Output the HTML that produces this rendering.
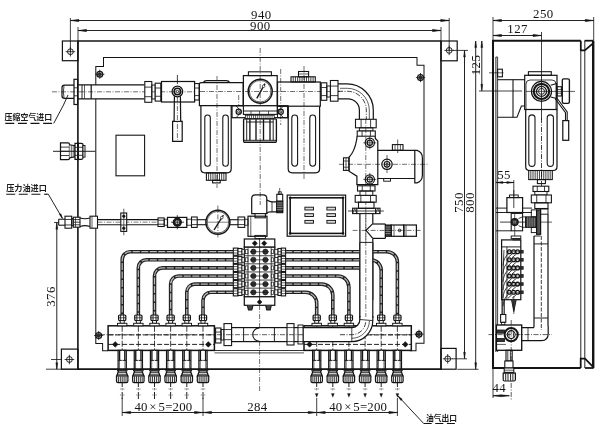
<!DOCTYPE html>
<html><head><meta charset="utf-8"><title>drawing</title>
<style>
html,body{margin:0;padding:0;background:#fff;}
body{width:600px;height:429px;overflow:hidden;}
svg{display:block;will-change:transform;}
.num{font-family:"Liberation Serif","DejaVu Serif",serif;fill:#141414;}
.cjk{font-family:"Liberation Sans","Noto Sans CJK SC","WenQuanYi Zen Hei",sans-serif;fill:#1c1c1c;}
</style></head><body>
<svg width="600" height="429" viewBox="0 0 600 429" stroke-linecap="butt" stroke-linejoin="miter">
<rect x="0" y="0" width="600" height="429" fill="#ffffff"/>
<line x1="77.90" y1="40.50" x2="77.90" y2="369.70" stroke="#141414" stroke-width="1.62"/>
<line x1="441.00" y1="40.50" x2="441.00" y2="369.70" stroke="#141414" stroke-width="1.62"/>
<line x1="77.90" y1="41.00" x2="441.00" y2="41.00" stroke="#141414" stroke-width="1.28"/>
<line x1="77.90" y1="369.20" x2="441.00" y2="369.20" stroke="#141414" stroke-width="1.35"/>
<rect x="62.40" y="41.00" width="15.60" height="19.70" fill="none" stroke="#141414" stroke-width="1.22"/>
<circle cx="70.40" cy="51.70" r="2.90" fill="none" stroke="#141414" stroke-width="0.94"/>
<line x1="65.60" y1="51.70" x2="75.20" y2="51.70" stroke="#141414" stroke-width="0.81"/>
<line x1="70.40" y1="46.90" x2="70.40" y2="56.50" stroke="#141414" stroke-width="0.81"/>
<rect x="441.00" y="41.00" width="16.20" height="19.80" fill="none" stroke="#141414" stroke-width="1.22"/>
<circle cx="449.20" cy="50.40" r="2.90" fill="none" stroke="#141414" stroke-width="0.94"/>
<line x1="444.40" y1="50.40" x2="454.00" y2="50.40" stroke="#141414" stroke-width="0.81"/>
<line x1="449.20" y1="45.60" x2="449.20" y2="55.20" stroke="#141414" stroke-width="0.81"/>
<rect x="61.40" y="349.10" width="16.60" height="20.10" fill="none" stroke="#141414" stroke-width="1.22"/>
<circle cx="69.40" cy="359.50" r="2.90" fill="none" stroke="#141414" stroke-width="0.94"/>
<line x1="64.60" y1="359.50" x2="74.20" y2="359.50" stroke="#141414" stroke-width="0.81"/>
<line x1="69.40" y1="354.70" x2="69.40" y2="364.30" stroke="#141414" stroke-width="0.81"/>
<rect x="441.00" y="348.40" width="15.10" height="20.80" fill="none" stroke="#141414" stroke-width="1.22"/>
<circle cx="447.70" cy="358.80" r="2.90" fill="none" stroke="#141414" stroke-width="0.94"/>
<line x1="442.90" y1="358.80" x2="452.50" y2="358.80" stroke="#141414" stroke-width="0.81"/>
<line x1="447.70" y1="354.00" x2="447.70" y2="363.60" stroke="#141414" stroke-width="0.81"/>
<line x1="70.40" y1="18.00" x2="70.40" y2="51.70" stroke="#141414" stroke-width="0.81"/>
<line x1="449.20" y1="18.00" x2="449.20" y2="50.40" stroke="#141414" stroke-width="0.81"/>
<line x1="78.00" y1="27.00" x2="78.00" y2="40.00" stroke="#141414" stroke-width="0.81"/>
<line x1="441.00" y1="27.00" x2="441.00" y2="40.00" stroke="#141414" stroke-width="0.81"/>
<line x1="70.40" y1="20.50" x2="449.20" y2="20.50" stroke="#141414" stroke-width="0.94"/>
<path d="M70.40,20.50 L78.90,19.35 L78.90,21.65 Z" fill="#141414" stroke="#141414" stroke-width="0.41"/>
<path d="M449.20,20.50 L440.70,21.65 L440.70,19.35 Z" fill="#141414" stroke="#141414" stroke-width="0.41"/>
<line x1="78.00" y1="30.50" x2="441.00" y2="30.50" stroke="#141414" stroke-width="0.94"/>
<path d="M78.00,30.50 L86.50,29.35 L86.50,31.65 Z" fill="#141414" stroke="#141414" stroke-width="0.41"/>
<path d="M441.00,30.50 L432.50,31.65 L432.50,29.35 Z" fill="#141414" stroke="#141414" stroke-width="0.41"/>
<text x="0" y="0" transform="translate(261.30 19.00) scale(1.07 1)" font-size="12" text-anchor="middle" class="num" font-weight="normal" letter-spacing="0.4">940</text>
<text x="0" y="0" transform="translate(260.30 30.20) scale(1.07 1)" font-size="12" text-anchor="middle" class="num" font-weight="normal" letter-spacing="0.4">900</text>
<path d="M95.80,85.00 L95.80,66.60 L103.50,66.60 L103.50,57.40 L417.00,57.40 L417.00,65.30 L424.00,65.30 L424.00,343.30 L416.00,343.30 L416.00,350.80 L409.60,350.80" fill="none" stroke="#141414" stroke-width="1.01"/>
<path d="M95.80,99.00 L95.80,343.60 L102.60,343.60 L102.60,350.80 L108.00,350.80" fill="none" stroke="#141414" stroke-width="1.01"/>
<line x1="214.40" y1="350.50" x2="304.00" y2="350.50" stroke="#141414" stroke-width="0.88"/>
<circle cx="99.80" cy="74.30" r="2.90" fill="none" stroke="#141414" stroke-width="1.28"/>
<line x1="95.20" y1="74.30" x2="104.40" y2="74.30" stroke="#141414" stroke-width="0.81"/>
<line x1="99.80" y1="69.70" x2="99.80" y2="78.90" stroke="#141414" stroke-width="0.81"/>
<rect x="98.50" y="73.00" width="2.60" height="2.60" fill="#333" stroke="#141414" stroke-width="0.54"/>
<circle cx="420.50" cy="77.60" r="2.90" fill="none" stroke="#141414" stroke-width="1.28"/>
<line x1="415.90" y1="77.60" x2="425.10" y2="77.60" stroke="#141414" stroke-width="0.81"/>
<line x1="420.50" y1="73.00" x2="420.50" y2="82.20" stroke="#141414" stroke-width="0.81"/>
<rect x="419.20" y="76.30" width="2.60" height="2.60" fill="#333" stroke="#141414" stroke-width="0.54"/>
<circle cx="98.70" cy="335.50" r="2.90" fill="none" stroke="#141414" stroke-width="1.28"/>
<line x1="94.10" y1="335.50" x2="103.30" y2="335.50" stroke="#141414" stroke-width="0.81"/>
<line x1="98.70" y1="330.90" x2="98.70" y2="340.10" stroke="#141414" stroke-width="0.81"/>
<rect x="97.40" y="334.20" width="2.60" height="2.60" fill="#333" stroke="#141414" stroke-width="0.54"/>
<circle cx="419.00" cy="334.20" r="2.90" fill="none" stroke="#141414" stroke-width="1.28"/>
<line x1="414.40" y1="334.20" x2="423.60" y2="334.20" stroke="#141414" stroke-width="0.81"/>
<line x1="419.00" y1="329.60" x2="419.00" y2="338.80" stroke="#141414" stroke-width="0.81"/>
<rect x="417.70" y="332.90" width="2.60" height="2.60" fill="#333" stroke="#141414" stroke-width="0.54"/>
<path d="M74,85.2 L64.5,85.2 Q62,85.2 62,87.8 L62,95.8 Q62,98.39999999999999 64.5,98.39999999999999 L74,98.39999999999999" fill="#fff" stroke="#141414" stroke-width="1.22"/>
<path d="M64,85.8 Q62.8,91.8 64,97.8" fill="none" stroke="#141414" stroke-width="0.81"/>
<rect x="74.00" y="79.30" width="3.60" height="25.20" fill="#fff" stroke="#141414" stroke-width="1.22"/>
<line x1="74.00" y1="87.80" x2="77.60" y2="87.80" stroke="#141414" stroke-width="0.81"/>
<line x1="74.00" y1="95.80" x2="77.60" y2="95.80" stroke="#141414" stroke-width="0.81"/>
<line x1="78.00" y1="84.90" x2="144.50" y2="84.90" stroke="#141414" stroke-width="1.22"/>
<line x1="78.00" y1="98.80" x2="144.50" y2="98.80" stroke="#141414" stroke-width="1.22"/>
<line x1="82.00" y1="84.90" x2="82.00" y2="98.80" stroke="#141414" stroke-width="0.94"/>
<line x1="91.20" y1="84.90" x2="91.20" y2="98.80" stroke="#141414" stroke-width="1.22"/>
<line x1="84.50" y1="84.90" x2="84.50" y2="98.80" stroke="#141414" stroke-width="0.68"/>
<line x1="52.00" y1="91.80" x2="200.00" y2="91.80" stroke="#141414" stroke-width="0.61" stroke-dasharray="5 1.5 1 1.5"/>
<rect x="144.80" y="81.50" width="7.00" height="20.80" fill="#fff" stroke="#141414" stroke-width="1.08"/>
<line x1="144.80" y1="87.12" x2="151.80" y2="87.12" stroke="#141414" stroke-width="0.81"/>
<line x1="144.80" y1="96.68" x2="151.80" y2="96.68" stroke="#141414" stroke-width="0.81"/>
<rect x="151.80" y="85.00" width="3.40" height="14.00" fill="none" stroke="#141414" stroke-width="0.94"/>
<rect x="155.20" y="83.20" width="5.60" height="17.90" fill="#fff" stroke="#141414" stroke-width="1.08"/>
<line x1="155.20" y1="88.03" x2="160.80" y2="88.03" stroke="#141414" stroke-width="0.81"/>
<line x1="155.20" y1="96.27" x2="160.80" y2="96.27" stroke="#141414" stroke-width="0.81"/>
<rect x="161.50" y="81.50" width="33.10" height="20.50" fill="none" stroke="#141414" stroke-width="1.22"/>
<circle cx="177.40" cy="91.50" r="5.30" fill="none" stroke="#141414" stroke-width="1.22"/>
<circle cx="177.40" cy="91.50" r="3.20" fill="none" stroke="#141414" stroke-width="1.62"/>
<circle cx="177.40" cy="91.50" r="1.20" fill="none" stroke="#141414" stroke-width="0.81"/>
<line x1="177.40" y1="75.00" x2="177.40" y2="84.00" stroke="#141414" stroke-width="0.81"/>
<path d="M174.40,96.30 L174.10,121.40 L172.60,121.40 L172.60,141.40 L182.20,141.40 L182.20,121.40 L180.70,121.40 L180.40,96.30" fill="none" stroke="#141414" stroke-width="1.22"/>
<line x1="172.60" y1="121.40" x2="182.20" y2="121.40" stroke="#141414" stroke-width="1.08"/>
<line x1="177.40" y1="97.00" x2="177.40" y2="140.00" stroke="#141414" stroke-width="0.61" stroke-dasharray="5 1.5 1 1.5"/>
<rect x="194.60" y="83.60" width="4.60" height="16.40" fill="#fff" stroke="#141414" stroke-width="1.08"/>
<line x1="194.60" y1="88.03" x2="199.20" y2="88.03" stroke="#141414" stroke-width="0.81"/>
<line x1="194.60" y1="95.57" x2="199.20" y2="95.57" stroke="#141414" stroke-width="0.81"/>
<path d="M199.4,84.5 Q199.4,82.7 201.2,82.7 L243.2,82.7 L243.2,105.6 L199.4,105.6 Z" fill="none" stroke="#141414" stroke-width="1.22"/>
<path d="M203.4,82.7 Q204,80.6 207,80.6 L226,80.6 Q229,80.6 229.6,82.7" fill="none" stroke="#141414" stroke-width="1.08"/>
<line x1="217.00" y1="76.00" x2="217.00" y2="188.00" stroke="#141414" stroke-width="0.61" stroke-dasharray="5 1.5 1 1.5"/>
<path d="M200.9,105.6 L200.9,168.8 Q200.9,172.8 204.9,172.8 L227.2,172.8 Q231.2,172.8 231.2,168.8 L231.2,105.6" fill="none" stroke="#141414" stroke-width="1.22"/>
<rect x="204.80" y="115.00" width="5.50" height="51.20" fill="none" stroke="#141414" stroke-width="1.08" rx="2.75"/>
<rect x="222.80" y="115.00" width="5.50" height="51.20" fill="none" stroke="#141414" stroke-width="1.08" rx="2.75"/>
<rect x="206.40" y="172.80" width="19.60" height="7.50" fill="none" stroke="#141414" stroke-width="1.08"/>
<line x1="208.58" y1="172.80" x2="208.58" y2="180.30" stroke="#141414" stroke-width="0.81"/>
<line x1="210.76" y1="172.80" x2="210.76" y2="180.30" stroke="#141414" stroke-width="0.81"/>
<line x1="212.94" y1="172.80" x2="212.94" y2="180.30" stroke="#141414" stroke-width="0.81"/>
<line x1="215.12" y1="172.80" x2="215.12" y2="180.30" stroke="#141414" stroke-width="0.81"/>
<line x1="217.30" y1="172.80" x2="217.30" y2="180.30" stroke="#141414" stroke-width="0.81"/>
<line x1="219.48" y1="172.80" x2="219.48" y2="180.30" stroke="#141414" stroke-width="0.81"/>
<line x1="221.66" y1="172.80" x2="221.66" y2="180.30" stroke="#141414" stroke-width="0.81"/>
<line x1="223.84" y1="172.80" x2="223.84" y2="180.30" stroke="#141414" stroke-width="0.81"/>
<rect x="212.60" y="180.30" width="7.60" height="2.60" fill="none" stroke="#141414" stroke-width="1.08"/>
<rect x="243.40" y="75.60" width="33.80" height="30.20" fill="none" stroke="#141414" stroke-width="1.22"/>
<rect x="248.40" y="71.80" width="23.00" height="3.80" fill="none" stroke="#141414" stroke-width="1.08"/>
<circle cx="260.20" cy="91.20" r="12.00" fill="none" stroke="#141414" stroke-width="1.49"/>
<circle cx="260.20" cy="91.20" r="10.80" fill="none" stroke="#141414" stroke-width="0.68"/>
<line x1="256.80" y1="98.40" x2="265.00" y2="83.60" stroke="#141414" stroke-width="1.35"/>
<circle cx="263.60" cy="86.20" r="1.30" fill="#fff" stroke="#141414" stroke-width="0.68"/>
<line x1="260.20" y1="48.00" x2="260.20" y2="205.00" stroke="#141414" stroke-width="0.61" stroke-dasharray="5 1.5 1 1.5"/>
<line x1="200.00" y1="91.50" x2="340.00" y2="91.50" stroke="#141414" stroke-width="0.61" stroke-dasharray="5 1.5 1 1.5"/>
<line x1="280.70" y1="69.00" x2="280.70" y2="125.00" stroke="#141414" stroke-width="0.61" stroke-dasharray="5 1.5 1 1.5"/>
<line x1="238.70" y1="95.00" x2="238.70" y2="106.00" stroke="#141414" stroke-width="0.61" stroke-dasharray="5 1.5 1 1.5"/>
<rect x="232.00" y="105.80" width="56.00" height="11.90" fill="none" stroke="#141414" stroke-width="1.22"/>
<circle cx="238.70" cy="111.80" r="2.60" fill="none" stroke="#141414" stroke-width="1.22"/>
<circle cx="238.70" cy="111.80" r="1.10" fill="none" stroke="#141414" stroke-width="0.81"/>
<circle cx="280.70" cy="111.80" r="2.60" fill="none" stroke="#141414" stroke-width="1.22"/>
<circle cx="280.70" cy="111.80" r="1.10" fill="none" stroke="#141414" stroke-width="0.81"/>
<path d="M236.00,105.80 L241.50,111.80 L236.00,117.70" fill="none" stroke="#141414" stroke-width="0.81"/>
<path d="M283.50,105.80 L278.00,111.80 L283.50,117.70" fill="none" stroke="#141414" stroke-width="0.81"/>
<rect x="243.40" y="105.80" width="33.80" height="8.60" fill="#fff" stroke="#141414" stroke-width="1.08"/>
<line x1="243.40" y1="111.00" x2="277.20" y2="111.00" stroke="#141414" stroke-width="0.94"/>
<line x1="251.00" y1="111.00" x2="251.00" y2="114.40" stroke="#141414" stroke-width="0.68"/>
<line x1="259.50" y1="111.00" x2="259.50" y2="114.40" stroke="#141414" stroke-width="0.68"/>
<line x1="268.50" y1="111.00" x2="268.50" y2="114.40" stroke="#141414" stroke-width="0.68"/>
<rect x="245.30" y="115.20" width="28.90" height="3.60" fill="#fff" stroke="#141414" stroke-width="0.81"/>
<line x1="247.36" y1="115.20" x2="247.36" y2="118.80" stroke="#141414" stroke-width="0.68"/>
<line x1="249.42" y1="115.20" x2="249.42" y2="118.80" stroke="#141414" stroke-width="0.68"/>
<line x1="251.48" y1="115.20" x2="251.48" y2="118.80" stroke="#141414" stroke-width="0.68"/>
<line x1="253.54" y1="115.20" x2="253.54" y2="118.80" stroke="#141414" stroke-width="0.68"/>
<line x1="255.60" y1="115.20" x2="255.60" y2="118.80" stroke="#141414" stroke-width="0.68"/>
<line x1="257.66" y1="115.20" x2="257.66" y2="118.80" stroke="#141414" stroke-width="0.68"/>
<line x1="259.72" y1="115.20" x2="259.72" y2="118.80" stroke="#141414" stroke-width="0.68"/>
<line x1="261.78" y1="115.20" x2="261.78" y2="118.80" stroke="#141414" stroke-width="0.68"/>
<line x1="263.84" y1="115.20" x2="263.84" y2="118.80" stroke="#141414" stroke-width="0.68"/>
<line x1="265.90" y1="115.20" x2="265.90" y2="118.80" stroke="#141414" stroke-width="0.68"/>
<line x1="267.96" y1="115.20" x2="267.96" y2="118.80" stroke="#141414" stroke-width="0.68"/>
<line x1="270.02" y1="115.20" x2="270.02" y2="118.80" stroke="#141414" stroke-width="0.68"/>
<line x1="272.08" y1="115.20" x2="272.08" y2="118.80" stroke="#141414" stroke-width="0.68"/>
<rect x="243.60" y="118.80" width="32.80" height="23.40" fill="none" stroke="#141414" stroke-width="1.35" rx="1"/>
<line x1="246.70" y1="122.00" x2="273.20" y2="122.00" stroke="#141414" stroke-width="0.94"/>
<line x1="243.60" y1="140.30" x2="276.40" y2="140.30" stroke="#141414" stroke-width="0.94"/>
<line x1="246.70" y1="119.20" x2="246.70" y2="140.30" stroke="#141414" stroke-width="0.94"/>
<line x1="249.90" y1="119.20" x2="249.90" y2="140.30" stroke="#141414" stroke-width="1.35"/>
<line x1="256.00" y1="119.20" x2="256.00" y2="140.30" stroke="#141414" stroke-width="1.35"/>
<line x1="263.50" y1="119.20" x2="263.50" y2="140.30" stroke="#141414" stroke-width="1.35"/>
<line x1="270.00" y1="119.20" x2="270.00" y2="140.30" stroke="#141414" stroke-width="1.35"/>
<line x1="273.20" y1="119.20" x2="273.20" y2="140.30" stroke="#141414" stroke-width="0.94"/>
<rect x="277.50" y="82.00" width="42.80" height="24.20" fill="none" stroke="#141414" stroke-width="1.22"/>
<rect x="291.00" y="76.80" width="24.30" height="5.20" fill="none" stroke="#141414" stroke-width="1.08"/>
<line x1="293.21" y1="76.80" x2="293.21" y2="82.00" stroke="#141414" stroke-width="0.81"/>
<line x1="295.42" y1="76.80" x2="295.42" y2="82.00" stroke="#141414" stroke-width="0.81"/>
<line x1="297.63" y1="76.80" x2="297.63" y2="82.00" stroke="#141414" stroke-width="0.81"/>
<line x1="299.84" y1="76.80" x2="299.84" y2="82.00" stroke="#141414" stroke-width="0.81"/>
<line x1="302.05" y1="76.80" x2="302.05" y2="82.00" stroke="#141414" stroke-width="0.81"/>
<line x1="304.26" y1="76.80" x2="304.26" y2="82.00" stroke="#141414" stroke-width="0.81"/>
<line x1="306.47" y1="76.80" x2="306.47" y2="82.00" stroke="#141414" stroke-width="0.81"/>
<line x1="308.68" y1="76.80" x2="308.68" y2="82.00" stroke="#141414" stroke-width="0.81"/>
<line x1="310.89" y1="76.80" x2="310.89" y2="82.00" stroke="#141414" stroke-width="0.81"/>
<line x1="313.10" y1="76.80" x2="313.10" y2="82.00" stroke="#141414" stroke-width="0.81"/>
<rect x="298.50" y="71.50" width="10.10" height="5.30" fill="none" stroke="#141414" stroke-width="1.08"/>
<line x1="298.50" y1="74.00" x2="308.60" y2="74.00" stroke="#141414" stroke-width="0.68"/>
<line x1="304.00" y1="66.00" x2="304.00" y2="180.00" stroke="#141414" stroke-width="0.61" stroke-dasharray="5 1.5 1 1.5"/>
<path d="M288.2,106.2 L288.2,168.8 Q288.2,172.8 292.2,172.8 L315.6,172.8 Q319.6,172.8 319.6,168.8 L319.6,106.2" fill="none" stroke="#141414" stroke-width="1.22"/>
<rect x="291.80" y="115.00" width="5.80" height="51.20" fill="none" stroke="#141414" stroke-width="1.08" rx="2.9"/>
<rect x="309.80" y="115.00" width="5.80" height="51.20" fill="none" stroke="#141414" stroke-width="1.08" rx="2.9"/>
<rect x="277.50" y="106.20" width="10.10" height="11.50" fill="none" stroke="#141414" stroke-width="0.94"/>
<rect x="321.20" y="82.80" width="5.60" height="17.50" fill="#fff" stroke="#141414" stroke-width="1.08"/>
<line x1="321.20" y1="87.52" x2="326.80" y2="87.52" stroke="#141414" stroke-width="0.81"/>
<line x1="321.20" y1="95.58" x2="326.80" y2="95.58" stroke="#141414" stroke-width="0.81"/>
<rect x="326.80" y="86.00" width="3.60" height="11.00" fill="none" stroke="#141414" stroke-width="0.94"/>
<rect x="330.40" y="80.50" width="7.60" height="20.70" fill="#fff" stroke="#141414" stroke-width="1.08"/>
<line x1="330.40" y1="86.09" x2="338.00" y2="86.09" stroke="#141414" stroke-width="0.81"/>
<line x1="330.40" y1="95.61" x2="338.00" y2="95.61" stroke="#141414" stroke-width="0.81"/>
<path d="M338,83.8 L347,83.8 A26.3,26.3 0 0 1 373.3,110 L373.3,119.3" fill="none" stroke="#141414" stroke-width="1.22"/>
<path d="M338,98.8 L348,98.8 A11.4,11.4 0 0 1 359.4,110.2 L359.4,119.3" fill="none" stroke="#141414" stroke-width="1.22"/>
<path d="M338,91.3 L347.5,91.3 A18.8,18.8 0 0 1 366.3,110 L366.3,119" fill="none" stroke="#141414" stroke-width="0.81" stroke-dasharray="5 1.5 1 1.5"/>
<path d="M340,88.3 L347.3,88.3 A22,22 0 0 1 369.3,110 L369.3,119.3" fill="none" stroke="#141414" stroke-width="0.68"/>
<rect x="355.50" y="119.30" width="20.70" height="8.50" fill="#fff" stroke="#141414" stroke-width="1.08"/>
<line x1="361.09" y1="119.30" x2="361.09" y2="127.80" stroke="#141414" stroke-width="0.81"/>
<line x1="370.61" y1="119.30" x2="370.61" y2="127.80" stroke="#141414" stroke-width="0.81"/>
<rect x="359.40" y="127.80" width="13.50" height="3.20" fill="none" stroke="#141414" stroke-width="0.94"/>
<rect x="357.20" y="131.00" width="18.10" height="5.20" fill="#fff" stroke="#141414" stroke-width="1.08"/>
<line x1="362.09" y1="131.00" x2="362.09" y2="136.20" stroke="#141414" stroke-width="0.81"/>
<line x1="370.41" y1="131.00" x2="370.41" y2="136.20" stroke="#141414" stroke-width="0.81"/>
<path d="M357.2,136.2 L356.6,140 Q354.5,152 349,157.2 L349,171.2 L356.9,176.2 L356.9,184.6 L377.8,184.6 L377.8,141 L375.3,138.5 L375.3,136.2" fill="none" stroke="#141414" stroke-width="1.22"/>
<rect x="343.50" y="157.80" width="5.50" height="12.60" fill="none" stroke="#141414" stroke-width="1.08"/>
<line x1="343.50" y1="161.00" x2="349.00" y2="161.00" stroke="#141414" stroke-width="0.68"/>
<line x1="343.50" y1="167.20" x2="349.00" y2="167.20" stroke="#141414" stroke-width="0.68"/>
<line x1="346.00" y1="157.80" x2="346.00" y2="170.40" stroke="#141414" stroke-width="0.68"/>
<circle cx="369.80" cy="142.80" r="4.60" fill="none" stroke="#141414" stroke-width="1.22"/>
<circle cx="369.80" cy="142.80" r="2.60" fill="none" stroke="#141414" stroke-width="1.22"/>
<line x1="363.30" y1="142.80" x2="376.30" y2="142.80" stroke="#141414" stroke-width="0.68"/>
<line x1="369.80" y1="136.30" x2="369.80" y2="149.30" stroke="#141414" stroke-width="0.68"/>
<circle cx="369.80" cy="179.40" r="4.60" fill="none" stroke="#141414" stroke-width="1.22"/>
<circle cx="369.80" cy="179.40" r="2.60" fill="none" stroke="#141414" stroke-width="1.22"/>
<line x1="363.30" y1="179.40" x2="376.30" y2="179.40" stroke="#141414" stroke-width="0.68"/>
<line x1="369.80" y1="172.90" x2="369.80" y2="185.90" stroke="#141414" stroke-width="0.68"/>
<circle cx="387.00" cy="164.30" r="5.20" fill="none" stroke="#141414" stroke-width="1.22"/>
<circle cx="387.00" cy="164.30" r="2.80" fill="none" stroke="#141414" stroke-width="1.22"/>
<circle cx="387.00" cy="164.30" r="1.10" fill="none" stroke="#141414" stroke-width="0.68"/>
<line x1="387.00" y1="155.00" x2="387.00" y2="173.00" stroke="#141414" stroke-width="0.68"/>
<path d="M377.8,150.3 L414.8,150.3 M377.8,178.5 L414.8,178.5" fill="none" stroke="#141414" stroke-width="1.22"/>
<path d="M414.8,150.3 L417,150.3 Q422.4,152 422.4,158 L422.4,175 Q422.4,181 417,182.8 L414.8,182.8 Z" fill="none" stroke="#141414" stroke-width="1.22"/>
<rect x="392.40" y="144.60" width="10.60" height="5.70" fill="none" stroke="#141414" stroke-width="1.08"/>
<line x1="395.00" y1="144.60" x2="395.00" y2="150.30" stroke="#141414" stroke-width="0.68"/>
<line x1="400.40" y1="144.60" x2="400.40" y2="150.30" stroke="#141414" stroke-width="0.68"/>
<line x1="397.70" y1="139.50" x2="397.70" y2="153.00" stroke="#141414" stroke-width="0.68"/>
<rect x="383.70" y="178.50" width="6.80" height="2.70" fill="none" stroke="#141414" stroke-width="0.94"/>
<line x1="339.00" y1="164.30" x2="428.00" y2="164.30" stroke="#141414" stroke-width="0.61" stroke-dasharray="5 1.5 1 1.5"/>
<line x1="365.80" y1="119.00" x2="365.80" y2="330.00" stroke="#141414" stroke-width="0.61" stroke-dasharray="5 1.5 1 1.5"/>
<rect x="357.50" y="185.80" width="17.50" height="5.20" fill="#fff" stroke="#141414" stroke-width="1.08"/>
<line x1="362.23" y1="185.80" x2="362.23" y2="191.00" stroke="#141414" stroke-width="0.81"/>
<line x1="370.27" y1="185.80" x2="370.27" y2="191.00" stroke="#141414" stroke-width="0.81"/>
<rect x="360.00" y="191.00" width="12.80" height="4.40" fill="none" stroke="#141414" stroke-width="0.94"/>
<rect x="355.20" y="195.40" width="21.00" height="6.80" fill="#fff" stroke="#141414" stroke-width="1.08"/>
<line x1="360.87" y1="195.40" x2="360.87" y2="202.20" stroke="#141414" stroke-width="0.81"/>
<line x1="370.53" y1="195.40" x2="370.53" y2="202.20" stroke="#141414" stroke-width="0.81"/>
<rect x="358.50" y="202.20" width="15.50" height="6.10" fill="none" stroke="#141414" stroke-width="1.08"/>
<line x1="348.00" y1="211.00" x2="383.80" y2="211.00" stroke="#141414" stroke-width="0.81"/>
<rect x="352.60" y="208.20" width="4.20" height="5.40" fill="none" stroke="#141414" stroke-width="1.08"/>
<rect x="375.60" y="208.20" width="4.40" height="5.40" fill="none" stroke="#141414" stroke-width="1.08"/>
<line x1="356.80" y1="208.30" x2="375.60" y2="208.30" stroke="#141414" stroke-width="1.08"/>
<line x1="356.80" y1="213.60" x2="375.60" y2="213.60" stroke="#141414" stroke-width="1.08"/>
<path d="M352.60,213.60 L354.70,208.20 L356.80,213.60" fill="none" stroke="#141414" stroke-width="0.68"/>
<path d="M375.60,213.60 L377.80,208.20 L380.00,213.60" fill="none" stroke="#141414" stroke-width="0.68"/>
<line x1="359.90" y1="213.60" x2="359.90" y2="320.00" stroke="#141414" stroke-width="1.22"/>
<line x1="372.80" y1="213.60" x2="372.80" y2="223.80" stroke="#141414" stroke-width="1.22"/>
<line x1="372.80" y1="238.40" x2="372.80" y2="300.00" stroke="#141414" stroke-width="1.22"/>
<line x1="359.90" y1="242.40" x2="372.80" y2="242.40" stroke="#141414" stroke-width="0.94"/>
<path d="M372.80,223.60 L366.00,230.30 L372.80,238.40" fill="none" stroke="#141414" stroke-width="1.22"/>
<line x1="372.80" y1="224.00" x2="385.40" y2="224.00" stroke="#141414" stroke-width="1.22"/>
<line x1="372.80" y1="238.40" x2="385.40" y2="238.40" stroke="#141414" stroke-width="1.22"/>
<line x1="385.40" y1="224.00" x2="385.40" y2="238.40" stroke="#141414" stroke-width="1.22"/>
<rect x="385.40" y="225.00" width="5.80" height="11.30" fill="#333" stroke="#141414" stroke-width="1.08"/>
<line x1="385.40" y1="227.00" x2="391.20" y2="227.00" stroke="#ccc" stroke-width="0.54"/>
<line x1="385.40" y1="229.20" x2="391.20" y2="229.20" stroke="#ccc" stroke-width="0.54"/>
<line x1="385.40" y1="231.40" x2="391.20" y2="231.40" stroke="#ccc" stroke-width="0.54"/>
<line x1="385.40" y1="233.60" x2="391.20" y2="233.60" stroke="#ccc" stroke-width="0.54"/>
<rect x="391.20" y="225.00" width="12.60" height="11.30" fill="none" stroke="#141414" stroke-width="1.22"/>
<circle cx="399.60" cy="230.40" r="1.30" fill="none" stroke="#141414" stroke-width="0.94"/>
<line x1="394.00" y1="225.00" x2="394.00" y2="236.30" stroke="#141414" stroke-width="0.68"/>
<rect x="403.80" y="225.00" width="12.60" height="11.30" fill="none" stroke="#141414" stroke-width="1.22"/>
<line x1="406.00" y1="225.00" x2="406.00" y2="236.30" stroke="#141414" stroke-width="0.68"/>
<line x1="352.60" y1="230.40" x2="421.50" y2="230.40" stroke="#141414" stroke-width="0.61" stroke-dasharray="5 1.5 1 1.5"/>
<rect x="287.20" y="195.10" width="58.40" height="41.10" fill="none" stroke="#141414" stroke-width="1.22"/>
<rect x="290.20" y="197.80" width="52.80" height="35.60" fill="none" stroke="#141414" stroke-width="1.55"/>
<circle cx="290.20" cy="197.80" r="1.10" fill="#141414" stroke="#141414" stroke-width="0.54"/>
<circle cx="343.00" cy="197.80" r="1.10" fill="#141414" stroke="#141414" stroke-width="0.54"/>
<circle cx="290.20" cy="233.40" r="1.10" fill="#141414" stroke="#141414" stroke-width="0.54"/>
<circle cx="343.00" cy="233.40" r="1.10" fill="#141414" stroke="#141414" stroke-width="0.54"/>
<rect x="304.90" y="207.20" width="8.60" height="2.80" fill="#ddd" stroke="#141414" stroke-width="0.94"/>
<rect x="304.90" y="213.70" width="8.60" height="2.80" fill="#ddd" stroke="#141414" stroke-width="0.94"/>
<rect x="304.90" y="220.40" width="8.60" height="2.80" fill="#ddd" stroke="#141414" stroke-width="0.94"/>
<rect x="326.90" y="207.20" width="8.60" height="2.80" fill="#ddd" stroke="#141414" stroke-width="0.94"/>
<rect x="326.90" y="213.70" width="8.60" height="2.80" fill="#ddd" stroke="#141414" stroke-width="0.94"/>
<rect x="326.90" y="220.40" width="8.60" height="2.80" fill="#ddd" stroke="#141414" stroke-width="0.94"/>
<path d="M251.7,213.6 L251.7,198.5 Q251.7,194.8 255.5,194.8 L263,194.8 Q266.8,194.8 266.8,198.5 L266.8,213.6 Z" fill="none" stroke="#141414" stroke-width="1.22"/>
<path d="M266.8,200 Q270,201.8 272,201.8 L276.8,201.8 L276.8,211.9 L270,211.9 Q268,211.9 266.8,213.3" fill="none" stroke="#141414" stroke-width="1.22"/>
<line x1="272.00" y1="201.80" x2="272.00" y2="211.90" stroke="#141414" stroke-width="0.81"/>
<rect x="276.80" y="194.30" width="5.90" height="18.40" fill="none" stroke="#141414" stroke-width="1.08"/>
<rect x="276.80" y="201.00" width="5.90" height="11.00" fill="#333" stroke="#141414" stroke-width="1.08"/>
<line x1="276.80" y1="203.00" x2="282.70" y2="203.00" stroke="#ccc" stroke-width="0.54"/>
<line x1="276.80" y1="205.20" x2="282.70" y2="205.20" stroke="#ccc" stroke-width="0.54"/>
<line x1="276.80" y1="207.40" x2="282.70" y2="207.40" stroke="#ccc" stroke-width="0.54"/>
<line x1="276.80" y1="209.60" x2="282.70" y2="209.60" stroke="#ccc" stroke-width="0.54"/>
<rect x="278.30" y="191.80" width="2.90" height="2.50" fill="none" stroke="#141414" stroke-width="0.81"/>
<line x1="279.70" y1="188.00" x2="279.70" y2="194.00" stroke="#141414" stroke-width="0.68"/>
<rect x="255.00" y="213.60" width="10.40" height="4.20" fill="#fff" stroke="#141414" stroke-width="1.08"/>
<rect x="248.00" y="216.20" width="19.00" height="20.10" fill="none" stroke="#141414" stroke-width="1.22"/>
<line x1="250.80" y1="216.20" x2="250.80" y2="236.30" stroke="#141414" stroke-width="0.68"/>
<rect x="255.00" y="235.40" width="10.40" height="3.20" fill="none" stroke="#141414" stroke-width="0.94"/>
<line x1="58.70" y1="219.20" x2="65.00" y2="219.20" stroke="#141414" stroke-width="1.08"/>
<line x1="58.70" y1="225.20" x2="65.00" y2="225.20" stroke="#141414" stroke-width="1.08"/>
<line x1="58.70" y1="219.20" x2="58.70" y2="225.20" stroke="#141414" stroke-width="1.08"/>
<rect x="65.00" y="216.20" width="6.70" height="12.00" fill="#fff" stroke="#141414" stroke-width="1.08"/>
<line x1="65.00" y1="219.44" x2="71.70" y2="219.44" stroke="#141414" stroke-width="0.81"/>
<line x1="65.00" y1="224.96" x2="71.70" y2="224.96" stroke="#141414" stroke-width="0.81"/>
<rect x="71.70" y="218.60" width="1.60" height="7.20" fill="none" stroke="#141414" stroke-width="0.94"/>
<rect x="73.30" y="217.20" width="6.70" height="10.00" fill="#fff" stroke="#141414" stroke-width="1.08"/>
<line x1="73.30" y1="219.60" x2="80.00" y2="219.60" stroke="#141414" stroke-width="0.81"/>
<line x1="73.30" y1="222.20" x2="80.00" y2="222.20" stroke="#141414" stroke-width="0.81"/>
<line x1="73.30" y1="224.80" x2="80.00" y2="224.80" stroke="#141414" stroke-width="0.81"/>
<line x1="75.50" y1="217.20" x2="75.50" y2="227.20" stroke="#141414" stroke-width="0.68"/>
<path d="M80,218.0 Q85,219.6 90,218.0 M80,226.39999999999998 Q85,224.79999999999998 90,226.39999999999998" fill="none" stroke="#141414" stroke-width="1.08"/>
<rect x="90.00" y="216.20" width="7.50" height="12.00" fill="#fff" stroke="#141414" stroke-width="1.08"/>
<line x1="92.00" y1="216.20" x2="92.00" y2="228.20" stroke="#141414" stroke-width="0.68"/>
<line x1="97.50" y1="219.60" x2="160.00" y2="219.60" stroke="#141414" stroke-width="1.08"/>
<line x1="97.50" y1="224.80" x2="160.00" y2="224.80" stroke="#141414" stroke-width="1.08"/>
<line x1="97.50" y1="222.20" x2="160.00" y2="222.20" stroke="#141414" stroke-width="0.54" stroke-dasharray="5 1.5 1 1.5"/>
<rect x="120.80" y="213.00" width="5.90" height="18.40" fill="#fff" stroke="#141414" stroke-width="1.08"/>
<line x1="120.80" y1="219.40" x2="126.70" y2="219.40" stroke="#141414" stroke-width="0.81"/>
<line x1="120.80" y1="225.00" x2="126.70" y2="225.00" stroke="#141414" stroke-width="0.81"/>
<line x1="123.80" y1="208.70" x2="123.80" y2="235.20" stroke="#141414" stroke-width="0.68"/>
<circle cx="123.80" cy="216.20" r="1.30" fill="#141414" stroke="#141414" stroke-width="0.68"/>
<circle cx="123.80" cy="228.20" r="1.30" fill="#141414" stroke="#141414" stroke-width="0.68"/>
<rect x="158.00" y="217.90" width="6.20" height="8.60" fill="#fff" stroke="#141414" stroke-width="1.08"/>
<line x1="158.00" y1="220.22" x2="164.20" y2="220.22" stroke="#141414" stroke-width="0.81"/>
<line x1="158.00" y1="224.18" x2="164.20" y2="224.18" stroke="#141414" stroke-width="0.81"/>
<rect x="164.20" y="219.20" width="3.30" height="6.00" fill="none" stroke="#141414" stroke-width="0.81"/>
<rect x="167.50" y="217.40" width="19.30" height="10.00" fill="none" stroke="#141414" stroke-width="1.22"/>
<circle cx="177.30" cy="222.20" r="4.00" fill="#222" stroke="#141414" stroke-width="1.22"/>
<circle cx="177.30" cy="222.20" r="1.60" fill="#fff" stroke="#fff" stroke-width="0.68"/>
<line x1="177.30" y1="215.20" x2="177.30" y2="229.20" stroke="#141414" stroke-width="0.81"/>
<line x1="171.00" y1="222.20" x2="184.00" y2="222.20" stroke="#141414" stroke-width="0.81"/>
<rect x="186.80" y="219.20" width="4.70" height="6.00" fill="none" stroke="#141414" stroke-width="0.81"/>
<rect x="191.50" y="217.00" width="5.70" height="10.40" fill="#fff" stroke="#141414" stroke-width="1.08"/>
<line x1="191.50" y1="219.81" x2="197.20" y2="219.81" stroke="#141414" stroke-width="0.81"/>
<line x1="191.50" y1="224.59" x2="197.20" y2="224.59" stroke="#141414" stroke-width="0.81"/>
<line x1="197.20" y1="219.70" x2="206.00" y2="219.70" stroke="#141414" stroke-width="1.08"/>
<line x1="197.20" y1="224.70" x2="206.00" y2="224.70" stroke="#141414" stroke-width="1.08"/>
<circle cx="217.90" cy="222.20" r="12.00" fill="#fff" stroke="#141414" stroke-width="1.49"/>
<circle cx="217.90" cy="222.20" r="10.80" fill="none" stroke="#141414" stroke-width="0.68"/>
<line x1="214.00" y1="230.00" x2="223.40" y2="215.20" stroke="#141414" stroke-width="1.35"/>
<circle cx="221.80" cy="217.60" r="1.30" fill="#fff" stroke="#141414" stroke-width="0.68"/>
<line x1="217.90" y1="205.50" x2="217.90" y2="238.50" stroke="#141414" stroke-width="0.61" stroke-dasharray="5 1.5 1 1.5"/>
<line x1="206.00" y1="222.20" x2="230.00" y2="222.20" stroke="#141414" stroke-width="0.54"/>
<line x1="230.00" y1="219.70" x2="238.00" y2="219.70" stroke="#141414" stroke-width="1.08"/>
<line x1="230.00" y1="224.70" x2="238.00" y2="224.70" stroke="#141414" stroke-width="1.08"/>
<rect x="238.00" y="217.00" width="6.70" height="10.40" fill="#fff" stroke="#141414" stroke-width="1.08"/>
<line x1="238.00" y1="219.81" x2="244.70" y2="219.81" stroke="#141414" stroke-width="0.81"/>
<line x1="238.00" y1="224.59" x2="244.70" y2="224.59" stroke="#141414" stroke-width="0.81"/>
<rect x="244.70" y="219.20" width="3.30" height="6.00" fill="none" stroke="#141414" stroke-width="0.81"/>
<path d="M233.3,251.7 L130.2,251.7 A8,8 0 0 0 122.2,259.7 L122.2,315" fill="none" stroke="#222" stroke-width="3.60" stroke-linejoin="round"/>
<path d="M233.3,251.7 L130.2,251.7 A8,8 0 0 0 122.2,259.7 L122.2,315" fill="none" stroke="#b8b8b8" stroke-width="1.25" stroke-dasharray="7 1.5" stroke-linejoin="round"/>
<path d="M233.3,259.8 L146.35,259.8 A8,8 0 0 0 138.35,267.8 L138.35,315" fill="none" stroke="#222" stroke-width="3.60" stroke-linejoin="round"/>
<path d="M233.3,259.8 L146.35,259.8 A8,8 0 0 0 138.35,267.8 L138.35,315" fill="none" stroke="#b8b8b8" stroke-width="1.25" stroke-dasharray="7 1.5" stroke-linejoin="round"/>
<path d="M233.3,267.9 L162.5,267.9 A8,8 0 0 0 154.5,275.9 L154.5,315" fill="none" stroke="#222" stroke-width="3.60" stroke-linejoin="round"/>
<path d="M233.3,267.9 L162.5,267.9 A8,8 0 0 0 154.5,275.9 L154.5,315" fill="none" stroke="#b8b8b8" stroke-width="1.25" stroke-dasharray="7 1.5" stroke-linejoin="round"/>
<path d="M233.3,276.0 L178.65,276.0 A8,8 0 0 0 170.65,284.0 L170.65,315" fill="none" stroke="#222" stroke-width="3.60" stroke-linejoin="round"/>
<path d="M233.3,276.0 L178.65,276.0 A8,8 0 0 0 170.65,284.0 L170.65,315" fill="none" stroke="#b8b8b8" stroke-width="1.25" stroke-dasharray="7 1.5" stroke-linejoin="round"/>
<path d="M233.3,284.1 L194.8,284.1 A8,8 0 0 0 186.8,292.1 L186.8,315" fill="none" stroke="#222" stroke-width="3.60" stroke-linejoin="round"/>
<path d="M233.3,284.1 L194.8,284.1 A8,8 0 0 0 186.8,292.1 L186.8,315" fill="none" stroke="#b8b8b8" stroke-width="1.25" stroke-dasharray="7 1.5" stroke-linejoin="round"/>
<path d="M233.3,292.3 L211.0,292.3 A8,8 0 0 0 203.0,300.3 L203.0,315" fill="none" stroke="#222" stroke-width="3.60" stroke-linejoin="round"/>
<path d="M233.3,292.3 L211.0,292.3 A8,8 0 0 0 203.0,300.3 L203.0,315" fill="none" stroke="#b8b8b8" stroke-width="1.25" stroke-dasharray="7 1.5" stroke-linejoin="round"/>
<path d="M285.3,251.7 L386.9,251.7 A10.5,10.5 0 0 1 397.4,262.2 L397.4,315" fill="none" stroke="#222" stroke-width="3.60" stroke-linejoin="round"/>
<path d="M285.3,251.7 L386.9,251.7 A10.5,10.5 0 0 1 397.4,262.2 L397.4,315" fill="none" stroke="#b8b8b8" stroke-width="1.25" stroke-dasharray="7 1.5" stroke-linejoin="round"/>
<path d="M285.3,259.8 L370.7,259.8 A10.5,10.5 0 0 1 381.2,270.3 L381.2,315" fill="none" stroke="#222" stroke-width="3.60" stroke-linejoin="round"/>
<path d="M285.3,259.8 L370.7,259.8 A10.5,10.5 0 0 1 381.2,270.3 L381.2,315" fill="none" stroke="#b8b8b8" stroke-width="1.25" stroke-dasharray="7 1.5" stroke-linejoin="round"/>
<path d="M285.3,267.9 L359.9,267.9" fill="none" stroke="#222" stroke-width="3.60" stroke-linejoin="round"/>
<path d="M285.3,267.9 L359.9,267.9" fill="none" stroke="#b8b8b8" stroke-width="1.25" stroke-dasharray="7 1.5" stroke-linejoin="round"/>
<path d="M285.3,276.0 L337.9,276.0 A11,11 0 0 1 348.9,287.0 L348.9,315" fill="none" stroke="#222" stroke-width="3.60" stroke-linejoin="round"/>
<path d="M285.3,276.0 L337.9,276.0 A11,11 0 0 1 348.9,287.0 L348.9,315" fill="none" stroke="#b8b8b8" stroke-width="1.25" stroke-dasharray="7 1.5" stroke-linejoin="round"/>
<path d="M285.3,284.1 L321.8,284.1 A11,11 0 0 1 332.8,295.1 L332.8,315" fill="none" stroke="#222" stroke-width="3.60" stroke-linejoin="round"/>
<path d="M285.3,284.1 L321.8,284.1 A11,11 0 0 1 332.8,295.1 L332.8,315" fill="none" stroke="#b8b8b8" stroke-width="1.25" stroke-dasharray="7 1.5" stroke-linejoin="round"/>
<path d="M285.3,292.3 L305.7,292.3 A11,11 0 0 1 316.7,303.3 L316.7,315" fill="none" stroke="#222" stroke-width="3.60" stroke-linejoin="round"/>
<path d="M285.3,292.3 L305.7,292.3 A11,11 0 0 1 316.7,303.3 L316.7,315" fill="none" stroke="#b8b8b8" stroke-width="1.25" stroke-dasharray="7 1.5" stroke-linejoin="round"/>
<rect x="359.9" y="243" width="12.900000000000034" height="76" fill="#fff"/>
<line x1="359.90" y1="242.40" x2="359.90" y2="318.00" stroke="#141414" stroke-width="1.22"/>
<line x1="372.80" y1="242.40" x2="372.80" y2="318.00" stroke="#141414" stroke-width="1.22"/>
<line x1="365.80" y1="214.00" x2="365.80" y2="330.00" stroke="#141414" stroke-width="0.61" stroke-dasharray="5 1.5 1 1.5"/>
<rect x="244.30" y="239.00" width="30.50" height="8.20" fill="#fff" stroke="#141414" stroke-width="1.22"/>
<path d="M252.20,243.30 L254.80,240.70 L257.40,243.30 L254.80,245.90 Z" fill="#141414" stroke="#141414" stroke-width="0.54"/>
<path d="M261.60,243.30 L264.20,240.70 L266.80,243.30 L264.20,245.90 Z" fill="#141414" stroke="#141414" stroke-width="0.54"/>
<line x1="259.60" y1="239.00" x2="259.60" y2="247.20" stroke="#141414" stroke-width="0.81"/>
<rect x="244.30" y="247.20" width="30.50" height="49.60" fill="#fff" stroke="#141414" stroke-width="1.22"/>
<line x1="259.60" y1="247.20" x2="259.60" y2="296.80" stroke="#141414" stroke-width="0.81"/>
<line x1="248.00" y1="247.20" x2="248.00" y2="296.80" stroke="#141414" stroke-width="0.68"/>
<line x1="271.20" y1="247.20" x2="271.20" y2="296.80" stroke="#141414" stroke-width="0.68"/>
<rect x="233.30" y="248.10" width="4.70" height="7.20" fill="#fff" stroke="#141414" stroke-width="1.08"/>
<line x1="233.30" y1="250.40" x2="238.00" y2="250.40" stroke="#141414" stroke-width="0.68"/>
<line x1="233.30" y1="253.00" x2="238.00" y2="253.00" stroke="#141414" stroke-width="0.68"/>
<rect x="238.00" y="248.50" width="4.00" height="6.40" fill="#fff" stroke="#141414" stroke-width="1.08"/>
<line x1="238.00" y1="251.70" x2="242.00" y2="251.70" stroke="#141414" stroke-width="0.68"/>
<rect x="242.00" y="249.30" width="2.30" height="4.80" fill="#fff" stroke="#141414" stroke-width="0.81"/>
<rect x="274.80" y="249.30" width="3.20" height="4.80" fill="#fff" stroke="#141414" stroke-width="0.81"/>
<rect x="278.00" y="248.50" width="3.30" height="6.40" fill="#fff" stroke="#141414" stroke-width="1.08"/>
<line x1="278.00" y1="251.70" x2="281.30" y2="251.70" stroke="#141414" stroke-width="0.68"/>
<rect x="281.30" y="248.10" width="4.30" height="7.20" fill="#fff" stroke="#141414" stroke-width="1.08"/>
<line x1="281.30" y1="250.40" x2="285.60" y2="250.40" stroke="#141414" stroke-width="0.68"/>
<line x1="281.30" y1="253.00" x2="285.60" y2="253.00" stroke="#141414" stroke-width="0.68"/>
<circle cx="253.40" cy="251.70" r="2.60" fill="#333" stroke="#141414" stroke-width="0.68"/>
<circle cx="265.40" cy="251.70" r="2.60" fill="#333" stroke="#141414" stroke-width="0.68"/>
<rect x="245.50" y="249.70" width="2.50" height="4.00" fill="none" stroke="#141414" stroke-width="0.68"/>
<rect x="271.20" y="249.70" width="2.40" height="4.00" fill="none" stroke="#141414" stroke-width="0.68"/>
<line x1="244.30" y1="255.75" x2="274.80" y2="255.75" stroke="#141414" stroke-width="0.81"/>
<line x1="250.00" y1="251.70" x2="269.00" y2="251.70" stroke="#141414" stroke-width="0.68"/>
<rect x="233.30" y="256.20" width="4.70" height="7.20" fill="#fff" stroke="#141414" stroke-width="1.08"/>
<line x1="233.30" y1="258.50" x2="238.00" y2="258.50" stroke="#141414" stroke-width="0.68"/>
<line x1="233.30" y1="261.10" x2="238.00" y2="261.10" stroke="#141414" stroke-width="0.68"/>
<rect x="238.00" y="256.60" width="4.00" height="6.40" fill="#fff" stroke="#141414" stroke-width="1.08"/>
<line x1="238.00" y1="259.80" x2="242.00" y2="259.80" stroke="#141414" stroke-width="0.68"/>
<rect x="242.00" y="257.40" width="2.30" height="4.80" fill="#fff" stroke="#141414" stroke-width="0.81"/>
<rect x="274.80" y="257.40" width="3.20" height="4.80" fill="#fff" stroke="#141414" stroke-width="0.81"/>
<rect x="278.00" y="256.60" width="3.30" height="6.40" fill="#fff" stroke="#141414" stroke-width="1.08"/>
<line x1="278.00" y1="259.80" x2="281.30" y2="259.80" stroke="#141414" stroke-width="0.68"/>
<rect x="281.30" y="256.20" width="4.30" height="7.20" fill="#fff" stroke="#141414" stroke-width="1.08"/>
<line x1="281.30" y1="258.50" x2="285.60" y2="258.50" stroke="#141414" stroke-width="0.68"/>
<line x1="281.30" y1="261.10" x2="285.60" y2="261.10" stroke="#141414" stroke-width="0.68"/>
<circle cx="253.40" cy="259.80" r="2.60" fill="#333" stroke="#141414" stroke-width="0.68"/>
<circle cx="265.40" cy="259.80" r="2.60" fill="#333" stroke="#141414" stroke-width="0.68"/>
<rect x="245.50" y="257.80" width="2.50" height="4.00" fill="none" stroke="#141414" stroke-width="0.68"/>
<rect x="271.20" y="257.80" width="2.40" height="4.00" fill="none" stroke="#141414" stroke-width="0.68"/>
<line x1="244.30" y1="263.85" x2="274.80" y2="263.85" stroke="#141414" stroke-width="0.81"/>
<line x1="250.00" y1="259.80" x2="269.00" y2="259.80" stroke="#141414" stroke-width="0.68"/>
<rect x="233.30" y="264.30" width="4.70" height="7.20" fill="#fff" stroke="#141414" stroke-width="1.08"/>
<line x1="233.30" y1="266.60" x2="238.00" y2="266.60" stroke="#141414" stroke-width="0.68"/>
<line x1="233.30" y1="269.20" x2="238.00" y2="269.20" stroke="#141414" stroke-width="0.68"/>
<rect x="238.00" y="264.70" width="4.00" height="6.40" fill="#fff" stroke="#141414" stroke-width="1.08"/>
<line x1="238.00" y1="267.90" x2="242.00" y2="267.90" stroke="#141414" stroke-width="0.68"/>
<rect x="242.00" y="265.50" width="2.30" height="4.80" fill="#fff" stroke="#141414" stroke-width="0.81"/>
<rect x="274.80" y="265.50" width="3.20" height="4.80" fill="#fff" stroke="#141414" stroke-width="0.81"/>
<rect x="278.00" y="264.70" width="3.30" height="6.40" fill="#fff" stroke="#141414" stroke-width="1.08"/>
<line x1="278.00" y1="267.90" x2="281.30" y2="267.90" stroke="#141414" stroke-width="0.68"/>
<rect x="281.30" y="264.30" width="4.30" height="7.20" fill="#fff" stroke="#141414" stroke-width="1.08"/>
<line x1="281.30" y1="266.60" x2="285.60" y2="266.60" stroke="#141414" stroke-width="0.68"/>
<line x1="281.30" y1="269.20" x2="285.60" y2="269.20" stroke="#141414" stroke-width="0.68"/>
<circle cx="253.40" cy="267.90" r="2.60" fill="#333" stroke="#141414" stroke-width="0.68"/>
<circle cx="265.40" cy="267.90" r="2.60" fill="#333" stroke="#141414" stroke-width="0.68"/>
<rect x="245.50" y="265.90" width="2.50" height="4.00" fill="none" stroke="#141414" stroke-width="0.68"/>
<rect x="271.20" y="265.90" width="2.40" height="4.00" fill="none" stroke="#141414" stroke-width="0.68"/>
<line x1="244.30" y1="271.95" x2="274.80" y2="271.95" stroke="#141414" stroke-width="0.81"/>
<line x1="250.00" y1="267.90" x2="269.00" y2="267.90" stroke="#141414" stroke-width="0.68"/>
<rect x="233.30" y="272.40" width="4.70" height="7.20" fill="#fff" stroke="#141414" stroke-width="1.08"/>
<line x1="233.30" y1="274.70" x2="238.00" y2="274.70" stroke="#141414" stroke-width="0.68"/>
<line x1="233.30" y1="277.30" x2="238.00" y2="277.30" stroke="#141414" stroke-width="0.68"/>
<rect x="238.00" y="272.80" width="4.00" height="6.40" fill="#fff" stroke="#141414" stroke-width="1.08"/>
<line x1="238.00" y1="276.00" x2="242.00" y2="276.00" stroke="#141414" stroke-width="0.68"/>
<rect x="242.00" y="273.60" width="2.30" height="4.80" fill="#fff" stroke="#141414" stroke-width="0.81"/>
<rect x="274.80" y="273.60" width="3.20" height="4.80" fill="#fff" stroke="#141414" stroke-width="0.81"/>
<rect x="278.00" y="272.80" width="3.30" height="6.40" fill="#fff" stroke="#141414" stroke-width="1.08"/>
<line x1="278.00" y1="276.00" x2="281.30" y2="276.00" stroke="#141414" stroke-width="0.68"/>
<rect x="281.30" y="272.40" width="4.30" height="7.20" fill="#fff" stroke="#141414" stroke-width="1.08"/>
<line x1="281.30" y1="274.70" x2="285.60" y2="274.70" stroke="#141414" stroke-width="0.68"/>
<line x1="281.30" y1="277.30" x2="285.60" y2="277.30" stroke="#141414" stroke-width="0.68"/>
<circle cx="253.40" cy="276.00" r="2.60" fill="#333" stroke="#141414" stroke-width="0.68"/>
<circle cx="265.40" cy="276.00" r="2.60" fill="#333" stroke="#141414" stroke-width="0.68"/>
<rect x="245.50" y="274.00" width="2.50" height="4.00" fill="none" stroke="#141414" stroke-width="0.68"/>
<rect x="271.20" y="274.00" width="2.40" height="4.00" fill="none" stroke="#141414" stroke-width="0.68"/>
<line x1="244.30" y1="280.05" x2="274.80" y2="280.05" stroke="#141414" stroke-width="0.81"/>
<line x1="250.00" y1="276.00" x2="269.00" y2="276.00" stroke="#141414" stroke-width="0.68"/>
<rect x="233.30" y="280.50" width="4.70" height="7.20" fill="#fff" stroke="#141414" stroke-width="1.08"/>
<line x1="233.30" y1="282.80" x2="238.00" y2="282.80" stroke="#141414" stroke-width="0.68"/>
<line x1="233.30" y1="285.40" x2="238.00" y2="285.40" stroke="#141414" stroke-width="0.68"/>
<rect x="238.00" y="280.90" width="4.00" height="6.40" fill="#fff" stroke="#141414" stroke-width="1.08"/>
<line x1="238.00" y1="284.10" x2="242.00" y2="284.10" stroke="#141414" stroke-width="0.68"/>
<rect x="242.00" y="281.70" width="2.30" height="4.80" fill="#fff" stroke="#141414" stroke-width="0.81"/>
<rect x="274.80" y="281.70" width="3.20" height="4.80" fill="#fff" stroke="#141414" stroke-width="0.81"/>
<rect x="278.00" y="280.90" width="3.30" height="6.40" fill="#fff" stroke="#141414" stroke-width="1.08"/>
<line x1="278.00" y1="284.10" x2="281.30" y2="284.10" stroke="#141414" stroke-width="0.68"/>
<rect x="281.30" y="280.50" width="4.30" height="7.20" fill="#fff" stroke="#141414" stroke-width="1.08"/>
<line x1="281.30" y1="282.80" x2="285.60" y2="282.80" stroke="#141414" stroke-width="0.68"/>
<line x1="281.30" y1="285.40" x2="285.60" y2="285.40" stroke="#141414" stroke-width="0.68"/>
<circle cx="253.40" cy="284.10" r="2.60" fill="#333" stroke="#141414" stroke-width="0.68"/>
<circle cx="265.40" cy="284.10" r="2.60" fill="#333" stroke="#141414" stroke-width="0.68"/>
<rect x="245.50" y="282.10" width="2.50" height="4.00" fill="none" stroke="#141414" stroke-width="0.68"/>
<rect x="271.20" y="282.10" width="2.40" height="4.00" fill="none" stroke="#141414" stroke-width="0.68"/>
<line x1="244.30" y1="288.15" x2="274.80" y2="288.15" stroke="#141414" stroke-width="0.81"/>
<line x1="250.00" y1="284.10" x2="269.00" y2="284.10" stroke="#141414" stroke-width="0.68"/>
<rect x="233.30" y="288.70" width="4.70" height="7.20" fill="#fff" stroke="#141414" stroke-width="1.08"/>
<line x1="233.30" y1="291.00" x2="238.00" y2="291.00" stroke="#141414" stroke-width="0.68"/>
<line x1="233.30" y1="293.60" x2="238.00" y2="293.60" stroke="#141414" stroke-width="0.68"/>
<rect x="238.00" y="289.10" width="4.00" height="6.40" fill="#fff" stroke="#141414" stroke-width="1.08"/>
<line x1="238.00" y1="292.30" x2="242.00" y2="292.30" stroke="#141414" stroke-width="0.68"/>
<rect x="242.00" y="289.90" width="2.30" height="4.80" fill="#fff" stroke="#141414" stroke-width="0.81"/>
<rect x="274.80" y="289.90" width="3.20" height="4.80" fill="#fff" stroke="#141414" stroke-width="0.81"/>
<rect x="278.00" y="289.10" width="3.30" height="6.40" fill="#fff" stroke="#141414" stroke-width="1.08"/>
<line x1="278.00" y1="292.30" x2="281.30" y2="292.30" stroke="#141414" stroke-width="0.68"/>
<rect x="281.30" y="288.70" width="4.30" height="7.20" fill="#fff" stroke="#141414" stroke-width="1.08"/>
<line x1="281.30" y1="291.00" x2="285.60" y2="291.00" stroke="#141414" stroke-width="0.68"/>
<line x1="281.30" y1="293.60" x2="285.60" y2="293.60" stroke="#141414" stroke-width="0.68"/>
<circle cx="253.40" cy="292.30" r="2.60" fill="#333" stroke="#141414" stroke-width="0.68"/>
<circle cx="265.40" cy="292.30" r="2.60" fill="#333" stroke="#141414" stroke-width="0.68"/>
<rect x="245.50" y="290.30" width="2.50" height="4.00" fill="none" stroke="#141414" stroke-width="0.68"/>
<rect x="271.20" y="290.30" width="2.40" height="4.00" fill="none" stroke="#141414" stroke-width="0.68"/>
<line x1="250.00" y1="292.30" x2="269.00" y2="292.30" stroke="#141414" stroke-width="0.68"/>
<rect x="244.30" y="296.80" width="30.50" height="8.50" fill="#fff" stroke="#141414" stroke-width="1.22"/>
<path d="M257.20,302.00 L259.60,299.60 L262.00,302.00 L259.60,304.40 Z" fill="#141414" stroke="#141414" stroke-width="0.54"/>
<line x1="259.60" y1="296.80" x2="259.60" y2="300.00" stroke="#141414" stroke-width="0.81"/>
<path d="M247.30,305.30 L248.50,310.00 L251.80,310.00 L253.00,305.30" fill="#444" stroke="#141414" stroke-width="1.08"/>
<path d="M265.60,305.30 L266.80,310.00 L270.20,310.00 L271.30,305.30" fill="#444" stroke="#141414" stroke-width="1.08"/>
<line x1="259.60" y1="305.00" x2="259.60" y2="392.00" stroke="#141414" stroke-width="0.61" stroke-dasharray="5 1.5 1 1.5"/>
<rect x="108.10" y="325.80" width="106.30" height="24.60" fill="#fff" stroke="#141414" stroke-width="1.49"/>
<line x1="108.10" y1="334.90" x2="214.40" y2="334.90" stroke="#141414" stroke-width="0.94" stroke-dasharray="5 2"/>
<line x1="108.10" y1="344.40" x2="214.40" y2="344.40" stroke="#141414" stroke-width="0.94" stroke-dasharray="5 2"/>
<line x1="122.20" y1="325.80" x2="122.20" y2="350.40" stroke="#141414" stroke-width="0.81" stroke-dasharray="6 1.5"/>
<line x1="138.35" y1="325.80" x2="138.35" y2="350.40" stroke="#141414" stroke-width="0.81" stroke-dasharray="6 1.5"/>
<line x1="154.50" y1="325.80" x2="154.50" y2="350.40" stroke="#141414" stroke-width="0.81" stroke-dasharray="6 1.5"/>
<line x1="170.65" y1="325.80" x2="170.65" y2="350.40" stroke="#141414" stroke-width="0.81" stroke-dasharray="6 1.5"/>
<line x1="186.80" y1="325.80" x2="186.80" y2="350.40" stroke="#141414" stroke-width="0.81" stroke-dasharray="6 1.5"/>
<line x1="203.00" y1="325.80" x2="203.00" y2="350.40" stroke="#141414" stroke-width="0.81" stroke-dasharray="6 1.5"/>
<path d="M112.40,344.40 L115.20,341.60 L118.00,344.40 L115.20,347.20 Z" fill="#141414" stroke="#141414" stroke-width="0.54"/>
<path d="M205.50,344.40 L208.30,341.60 L211.10,344.40 L208.30,347.20 Z" fill="#141414" stroke="#141414" stroke-width="0.54"/>
<rect x="118.60" y="315.00" width="7.20" height="5.60" fill="#fff" stroke="#141414" stroke-width="1.22" rx="1"/>
<line x1="120.70" y1="315.00" x2="120.70" y2="320.60" stroke="#141414" stroke-width="0.94"/>
<line x1="123.70" y1="315.00" x2="123.70" y2="320.60" stroke="#141414" stroke-width="0.94"/>
<line x1="118.60" y1="317.80" x2="125.80" y2="317.80" stroke="#141414" stroke-width="0.68"/>
<rect x="120.20" y="320.60" width="4.00" height="2.70" fill="#fff" stroke="#141414" stroke-width="0.94"/>
<rect x="117.50" y="323.30" width="9.40" height="2.50" fill="#fff" stroke="#141414" stroke-width="0.94"/>
<rect x="118.10" y="350.40" width="8.20" height="18.80" fill="#fff" stroke="#141414" stroke-width="1.22"/>
<line x1="118.10" y1="360.40" x2="126.30" y2="360.40" stroke="#141414" stroke-width="0.94"/>
<line x1="119.60" y1="350.40" x2="119.60" y2="360.40" stroke="#141414" stroke-width="1.35"/>
<line x1="124.80" y1="350.40" x2="124.80" y2="360.40" stroke="#141414" stroke-width="1.35"/>
<line x1="119.40" y1="360.40" x2="119.40" y2="369.20" stroke="#141414" stroke-width="0.68"/>
<line x1="125.00" y1="360.40" x2="125.00" y2="369.20" stroke="#141414" stroke-width="0.68"/>
<line x1="122.20" y1="350.40" x2="122.20" y2="369.00" stroke="#fff" stroke-width="0.68"/>
<rect x="117.40" y="369.20" width="9.60" height="1.60" fill="#fff" stroke="#141414" stroke-width="0.94"/>
<path d="M118.60,370.80 L116.70,376.00 L127.70,376.00 L125.80,370.80 Z" fill="#fff" stroke="#141414" stroke-width="1.22"/>
<line x1="117.90" y1="372.60" x2="126.50" y2="372.60" stroke="#141414" stroke-width="0.81"/>
<line x1="117.20" y1="374.30" x2="127.20" y2="374.30" stroke="#141414" stroke-width="0.81"/>
<path d="M116.5,376 L116.5,381 Q116.5,382.6 118.0,382.6 L126.4,382.6 Q127.9,382.6 127.9,381 L127.9,376 Z" fill="#fff" stroke="#141414" stroke-width="1.22"/>
<line x1="118.40" y1="376.30" x2="118.40" y2="382.30" stroke="#141414" stroke-width="0.88"/>
<line x1="120.30" y1="376.30" x2="120.30" y2="382.30" stroke="#141414" stroke-width="0.88"/>
<line x1="122.20" y1="376.30" x2="122.20" y2="382.30" stroke="#141414" stroke-width="0.88"/>
<line x1="124.10" y1="376.30" x2="124.10" y2="382.30" stroke="#141414" stroke-width="0.88"/>
<line x1="126.00" y1="376.30" x2="126.00" y2="382.30" stroke="#141414" stroke-width="0.88"/>
<line x1="122.20" y1="382.50" x2="122.20" y2="387.00" stroke="#141414" stroke-width="0.94"/>
<line x1="122.20" y1="388.00" x2="122.20" y2="390.30" stroke="#555" stroke-width="0.81"/>
<line x1="119.90" y1="389.00" x2="124.50" y2="389.00" stroke="#666" stroke-width="0.68" stroke-dasharray="1.5 1.6"/>
<line x1="122.20" y1="392.00" x2="122.20" y2="399.00" stroke="#141414" stroke-width="0.94"/>
<line x1="119.90" y1="395.00" x2="124.50" y2="395.00" stroke="#666" stroke-width="0.68" stroke-dasharray="1.5 1.6"/>
<rect x="134.75" y="315.00" width="7.20" height="5.60" fill="#fff" stroke="#141414" stroke-width="1.22" rx="1"/>
<line x1="136.85" y1="315.00" x2="136.85" y2="320.60" stroke="#141414" stroke-width="0.94"/>
<line x1="139.85" y1="315.00" x2="139.85" y2="320.60" stroke="#141414" stroke-width="0.94"/>
<line x1="134.75" y1="317.80" x2="141.95" y2="317.80" stroke="#141414" stroke-width="0.68"/>
<rect x="136.35" y="320.60" width="4.00" height="2.70" fill="#fff" stroke="#141414" stroke-width="0.94"/>
<rect x="133.65" y="323.30" width="9.40" height="2.50" fill="#fff" stroke="#141414" stroke-width="0.94"/>
<rect x="134.25" y="350.40" width="8.20" height="18.80" fill="#fff" stroke="#141414" stroke-width="1.22"/>
<line x1="134.25" y1="360.40" x2="142.45" y2="360.40" stroke="#141414" stroke-width="0.94"/>
<line x1="135.75" y1="350.40" x2="135.75" y2="360.40" stroke="#141414" stroke-width="1.35"/>
<line x1="140.95" y1="350.40" x2="140.95" y2="360.40" stroke="#141414" stroke-width="1.35"/>
<line x1="135.55" y1="360.40" x2="135.55" y2="369.20" stroke="#141414" stroke-width="0.68"/>
<line x1="141.15" y1="360.40" x2="141.15" y2="369.20" stroke="#141414" stroke-width="0.68"/>
<line x1="138.35" y1="350.40" x2="138.35" y2="369.00" stroke="#fff" stroke-width="0.68"/>
<rect x="133.55" y="369.20" width="9.60" height="1.60" fill="#fff" stroke="#141414" stroke-width="0.94"/>
<path d="M134.75,370.80 L132.85,376.00 L143.85,376.00 L141.95,370.80 Z" fill="#fff" stroke="#141414" stroke-width="1.22"/>
<line x1="134.05" y1="372.60" x2="142.65" y2="372.60" stroke="#141414" stroke-width="0.81"/>
<line x1="133.35" y1="374.30" x2="143.35" y2="374.30" stroke="#141414" stroke-width="0.81"/>
<path d="M132.65,376 L132.65,381 Q132.65,382.6 134.15,382.6 L142.54999999999998,382.6 Q144.04999999999998,382.6 144.04999999999998,381 L144.04999999999998,376 Z" fill="#fff" stroke="#141414" stroke-width="1.22"/>
<line x1="134.55" y1="376.30" x2="134.55" y2="382.30" stroke="#141414" stroke-width="0.88"/>
<line x1="136.45" y1="376.30" x2="136.45" y2="382.30" stroke="#141414" stroke-width="0.88"/>
<line x1="138.35" y1="376.30" x2="138.35" y2="382.30" stroke="#141414" stroke-width="0.88"/>
<line x1="140.25" y1="376.30" x2="140.25" y2="382.30" stroke="#141414" stroke-width="0.88"/>
<line x1="142.15" y1="376.30" x2="142.15" y2="382.30" stroke="#141414" stroke-width="0.88"/>
<line x1="138.35" y1="382.50" x2="138.35" y2="387.00" stroke="#141414" stroke-width="0.94"/>
<line x1="138.35" y1="388.00" x2="138.35" y2="390.30" stroke="#555" stroke-width="0.81"/>
<line x1="136.05" y1="389.00" x2="140.65" y2="389.00" stroke="#666" stroke-width="0.68" stroke-dasharray="1.5 1.6"/>
<line x1="138.35" y1="392.00" x2="138.35" y2="399.00" stroke="#141414" stroke-width="0.94"/>
<line x1="136.05" y1="395.00" x2="140.65" y2="395.00" stroke="#666" stroke-width="0.68" stroke-dasharray="1.5 1.6"/>
<rect x="150.90" y="315.00" width="7.20" height="5.60" fill="#fff" stroke="#141414" stroke-width="1.22" rx="1"/>
<line x1="153.00" y1="315.00" x2="153.00" y2="320.60" stroke="#141414" stroke-width="0.94"/>
<line x1="156.00" y1="315.00" x2="156.00" y2="320.60" stroke="#141414" stroke-width="0.94"/>
<line x1="150.90" y1="317.80" x2="158.10" y2="317.80" stroke="#141414" stroke-width="0.68"/>
<rect x="152.50" y="320.60" width="4.00" height="2.70" fill="#fff" stroke="#141414" stroke-width="0.94"/>
<rect x="149.80" y="323.30" width="9.40" height="2.50" fill="#fff" stroke="#141414" stroke-width="0.94"/>
<rect x="150.40" y="350.40" width="8.20" height="18.80" fill="#fff" stroke="#141414" stroke-width="1.22"/>
<line x1="150.40" y1="360.40" x2="158.60" y2="360.40" stroke="#141414" stroke-width="0.94"/>
<line x1="151.90" y1="350.40" x2="151.90" y2="360.40" stroke="#141414" stroke-width="1.35"/>
<line x1="157.10" y1="350.40" x2="157.10" y2="360.40" stroke="#141414" stroke-width="1.35"/>
<line x1="151.70" y1="360.40" x2="151.70" y2="369.20" stroke="#141414" stroke-width="0.68"/>
<line x1="157.30" y1="360.40" x2="157.30" y2="369.20" stroke="#141414" stroke-width="0.68"/>
<line x1="154.50" y1="350.40" x2="154.50" y2="369.00" stroke="#fff" stroke-width="0.68"/>
<rect x="149.70" y="369.20" width="9.60" height="1.60" fill="#fff" stroke="#141414" stroke-width="0.94"/>
<path d="M150.90,370.80 L149.00,376.00 L160.00,376.00 L158.10,370.80 Z" fill="#fff" stroke="#141414" stroke-width="1.22"/>
<line x1="150.20" y1="372.60" x2="158.80" y2="372.60" stroke="#141414" stroke-width="0.81"/>
<line x1="149.50" y1="374.30" x2="159.50" y2="374.30" stroke="#141414" stroke-width="0.81"/>
<path d="M148.8,376 L148.8,381 Q148.8,382.6 150.3,382.6 L158.7,382.6 Q160.2,382.6 160.2,381 L160.2,376 Z" fill="#fff" stroke="#141414" stroke-width="1.22"/>
<line x1="150.70" y1="376.30" x2="150.70" y2="382.30" stroke="#141414" stroke-width="0.88"/>
<line x1="152.60" y1="376.30" x2="152.60" y2="382.30" stroke="#141414" stroke-width="0.88"/>
<line x1="154.50" y1="376.30" x2="154.50" y2="382.30" stroke="#141414" stroke-width="0.88"/>
<line x1="156.40" y1="376.30" x2="156.40" y2="382.30" stroke="#141414" stroke-width="0.88"/>
<line x1="158.30" y1="376.30" x2="158.30" y2="382.30" stroke="#141414" stroke-width="0.88"/>
<line x1="154.50" y1="382.50" x2="154.50" y2="387.00" stroke="#141414" stroke-width="0.94"/>
<line x1="154.50" y1="388.00" x2="154.50" y2="390.30" stroke="#555" stroke-width="0.81"/>
<line x1="152.20" y1="389.00" x2="156.80" y2="389.00" stroke="#666" stroke-width="0.68" stroke-dasharray="1.5 1.6"/>
<line x1="154.50" y1="392.00" x2="154.50" y2="399.00" stroke="#141414" stroke-width="0.94"/>
<line x1="152.20" y1="395.00" x2="156.80" y2="395.00" stroke="#666" stroke-width="0.68" stroke-dasharray="1.5 1.6"/>
<rect x="167.05" y="315.00" width="7.20" height="5.60" fill="#fff" stroke="#141414" stroke-width="1.22" rx="1"/>
<line x1="169.15" y1="315.00" x2="169.15" y2="320.60" stroke="#141414" stroke-width="0.94"/>
<line x1="172.15" y1="315.00" x2="172.15" y2="320.60" stroke="#141414" stroke-width="0.94"/>
<line x1="167.05" y1="317.80" x2="174.25" y2="317.80" stroke="#141414" stroke-width="0.68"/>
<rect x="168.65" y="320.60" width="4.00" height="2.70" fill="#fff" stroke="#141414" stroke-width="0.94"/>
<rect x="165.95" y="323.30" width="9.40" height="2.50" fill="#fff" stroke="#141414" stroke-width="0.94"/>
<rect x="166.55" y="350.40" width="8.20" height="18.80" fill="#fff" stroke="#141414" stroke-width="1.22"/>
<line x1="166.55" y1="360.40" x2="174.75" y2="360.40" stroke="#141414" stroke-width="0.94"/>
<line x1="168.05" y1="350.40" x2="168.05" y2="360.40" stroke="#141414" stroke-width="1.35"/>
<line x1="173.25" y1="350.40" x2="173.25" y2="360.40" stroke="#141414" stroke-width="1.35"/>
<line x1="167.85" y1="360.40" x2="167.85" y2="369.20" stroke="#141414" stroke-width="0.68"/>
<line x1="173.45" y1="360.40" x2="173.45" y2="369.20" stroke="#141414" stroke-width="0.68"/>
<line x1="170.65" y1="350.40" x2="170.65" y2="369.00" stroke="#fff" stroke-width="0.68"/>
<rect x="165.85" y="369.20" width="9.60" height="1.60" fill="#fff" stroke="#141414" stroke-width="0.94"/>
<path d="M167.05,370.80 L165.15,376.00 L176.15,376.00 L174.25,370.80 Z" fill="#fff" stroke="#141414" stroke-width="1.22"/>
<line x1="166.35" y1="372.60" x2="174.95" y2="372.60" stroke="#141414" stroke-width="0.81"/>
<line x1="165.65" y1="374.30" x2="175.65" y2="374.30" stroke="#141414" stroke-width="0.81"/>
<path d="M164.95000000000002,376 L164.95000000000002,381 Q164.95000000000002,382.6 166.45000000000002,382.6 L174.85,382.6 Q176.35,382.6 176.35,381 L176.35,376 Z" fill="#fff" stroke="#141414" stroke-width="1.22"/>
<line x1="166.85" y1="376.30" x2="166.85" y2="382.30" stroke="#141414" stroke-width="0.88"/>
<line x1="168.75" y1="376.30" x2="168.75" y2="382.30" stroke="#141414" stroke-width="0.88"/>
<line x1="170.65" y1="376.30" x2="170.65" y2="382.30" stroke="#141414" stroke-width="0.88"/>
<line x1="172.55" y1="376.30" x2="172.55" y2="382.30" stroke="#141414" stroke-width="0.88"/>
<line x1="174.45" y1="376.30" x2="174.45" y2="382.30" stroke="#141414" stroke-width="0.88"/>
<line x1="170.65" y1="382.50" x2="170.65" y2="387.00" stroke="#141414" stroke-width="0.94"/>
<line x1="170.65" y1="388.00" x2="170.65" y2="390.30" stroke="#555" stroke-width="0.81"/>
<line x1="168.35" y1="389.00" x2="172.95" y2="389.00" stroke="#666" stroke-width="0.68" stroke-dasharray="1.5 1.6"/>
<line x1="170.65" y1="392.00" x2="170.65" y2="399.00" stroke="#141414" stroke-width="0.94"/>
<line x1="168.35" y1="395.00" x2="172.95" y2="395.00" stroke="#666" stroke-width="0.68" stroke-dasharray="1.5 1.6"/>
<rect x="183.20" y="315.00" width="7.20" height="5.60" fill="#fff" stroke="#141414" stroke-width="1.22" rx="1"/>
<line x1="185.30" y1="315.00" x2="185.30" y2="320.60" stroke="#141414" stroke-width="0.94"/>
<line x1="188.30" y1="315.00" x2="188.30" y2="320.60" stroke="#141414" stroke-width="0.94"/>
<line x1="183.20" y1="317.80" x2="190.40" y2="317.80" stroke="#141414" stroke-width="0.68"/>
<rect x="184.80" y="320.60" width="4.00" height="2.70" fill="#fff" stroke="#141414" stroke-width="0.94"/>
<rect x="182.10" y="323.30" width="9.40" height="2.50" fill="#fff" stroke="#141414" stroke-width="0.94"/>
<rect x="182.70" y="350.40" width="8.20" height="18.80" fill="#fff" stroke="#141414" stroke-width="1.22"/>
<line x1="182.70" y1="360.40" x2="190.90" y2="360.40" stroke="#141414" stroke-width="0.94"/>
<line x1="184.20" y1="350.40" x2="184.20" y2="360.40" stroke="#141414" stroke-width="1.35"/>
<line x1="189.40" y1="350.40" x2="189.40" y2="360.40" stroke="#141414" stroke-width="1.35"/>
<line x1="184.00" y1="360.40" x2="184.00" y2="369.20" stroke="#141414" stroke-width="0.68"/>
<line x1="189.60" y1="360.40" x2="189.60" y2="369.20" stroke="#141414" stroke-width="0.68"/>
<line x1="186.80" y1="350.40" x2="186.80" y2="369.00" stroke="#fff" stroke-width="0.68"/>
<rect x="182.00" y="369.20" width="9.60" height="1.60" fill="#fff" stroke="#141414" stroke-width="0.94"/>
<path d="M183.20,370.80 L181.30,376.00 L192.30,376.00 L190.40,370.80 Z" fill="#fff" stroke="#141414" stroke-width="1.22"/>
<line x1="182.50" y1="372.60" x2="191.10" y2="372.60" stroke="#141414" stroke-width="0.81"/>
<line x1="181.80" y1="374.30" x2="191.80" y2="374.30" stroke="#141414" stroke-width="0.81"/>
<path d="M181.10000000000002,376 L181.10000000000002,381 Q181.10000000000002,382.6 182.60000000000002,382.6 L191.0,382.6 Q192.5,382.6 192.5,381 L192.5,376 Z" fill="#fff" stroke="#141414" stroke-width="1.22"/>
<line x1="183.00" y1="376.30" x2="183.00" y2="382.30" stroke="#141414" stroke-width="0.88"/>
<line x1="184.90" y1="376.30" x2="184.90" y2="382.30" stroke="#141414" stroke-width="0.88"/>
<line x1="186.80" y1="376.30" x2="186.80" y2="382.30" stroke="#141414" stroke-width="0.88"/>
<line x1="188.70" y1="376.30" x2="188.70" y2="382.30" stroke="#141414" stroke-width="0.88"/>
<line x1="190.60" y1="376.30" x2="190.60" y2="382.30" stroke="#141414" stroke-width="0.88"/>
<line x1="186.80" y1="382.50" x2="186.80" y2="387.00" stroke="#141414" stroke-width="0.94"/>
<line x1="186.80" y1="388.00" x2="186.80" y2="390.30" stroke="#555" stroke-width="0.81"/>
<line x1="184.50" y1="389.00" x2="189.10" y2="389.00" stroke="#666" stroke-width="0.68" stroke-dasharray="1.5 1.6"/>
<line x1="186.80" y1="392.00" x2="186.80" y2="399.00" stroke="#141414" stroke-width="0.94"/>
<line x1="184.50" y1="395.00" x2="189.10" y2="395.00" stroke="#666" stroke-width="0.68" stroke-dasharray="1.5 1.6"/>
<rect x="199.40" y="315.00" width="7.20" height="5.60" fill="#fff" stroke="#141414" stroke-width="1.22" rx="1"/>
<line x1="201.50" y1="315.00" x2="201.50" y2="320.60" stroke="#141414" stroke-width="0.94"/>
<line x1="204.50" y1="315.00" x2="204.50" y2="320.60" stroke="#141414" stroke-width="0.94"/>
<line x1="199.40" y1="317.80" x2="206.60" y2="317.80" stroke="#141414" stroke-width="0.68"/>
<rect x="201.00" y="320.60" width="4.00" height="2.70" fill="#fff" stroke="#141414" stroke-width="0.94"/>
<rect x="198.30" y="323.30" width="9.40" height="2.50" fill="#fff" stroke="#141414" stroke-width="0.94"/>
<rect x="198.90" y="350.40" width="8.20" height="18.80" fill="#fff" stroke="#141414" stroke-width="1.22"/>
<line x1="198.90" y1="360.40" x2="207.10" y2="360.40" stroke="#141414" stroke-width="0.94"/>
<line x1="200.40" y1="350.40" x2="200.40" y2="360.40" stroke="#141414" stroke-width="1.35"/>
<line x1="205.60" y1="350.40" x2="205.60" y2="360.40" stroke="#141414" stroke-width="1.35"/>
<line x1="200.20" y1="360.40" x2="200.20" y2="369.20" stroke="#141414" stroke-width="0.68"/>
<line x1="205.80" y1="360.40" x2="205.80" y2="369.20" stroke="#141414" stroke-width="0.68"/>
<line x1="203.00" y1="350.40" x2="203.00" y2="369.00" stroke="#fff" stroke-width="0.68"/>
<rect x="198.20" y="369.20" width="9.60" height="1.60" fill="#fff" stroke="#141414" stroke-width="0.94"/>
<path d="M199.40,370.80 L197.50,376.00 L208.50,376.00 L206.60,370.80 Z" fill="#fff" stroke="#141414" stroke-width="1.22"/>
<line x1="198.70" y1="372.60" x2="207.30" y2="372.60" stroke="#141414" stroke-width="0.81"/>
<line x1="198.00" y1="374.30" x2="208.00" y2="374.30" stroke="#141414" stroke-width="0.81"/>
<path d="M197.3,376 L197.3,381 Q197.3,382.6 198.8,382.6 L207.2,382.6 Q208.7,382.6 208.7,381 L208.7,376 Z" fill="#fff" stroke="#141414" stroke-width="1.22"/>
<line x1="199.20" y1="376.30" x2="199.20" y2="382.30" stroke="#141414" stroke-width="0.88"/>
<line x1="201.10" y1="376.30" x2="201.10" y2="382.30" stroke="#141414" stroke-width="0.88"/>
<line x1="203.00" y1="376.30" x2="203.00" y2="382.30" stroke="#141414" stroke-width="0.88"/>
<line x1="204.90" y1="376.30" x2="204.90" y2="382.30" stroke="#141414" stroke-width="0.88"/>
<line x1="206.80" y1="376.30" x2="206.80" y2="382.30" stroke="#141414" stroke-width="0.88"/>
<line x1="203.00" y1="382.50" x2="203.00" y2="387.00" stroke="#141414" stroke-width="0.94"/>
<line x1="203.00" y1="388.00" x2="203.00" y2="390.30" stroke="#555" stroke-width="0.81"/>
<line x1="200.70" y1="389.00" x2="205.30" y2="389.00" stroke="#666" stroke-width="0.68" stroke-dasharray="1.5 1.6"/>
<line x1="203.00" y1="392.00" x2="203.00" y2="399.00" stroke="#141414" stroke-width="0.94"/>
<line x1="200.70" y1="395.00" x2="205.30" y2="395.00" stroke="#666" stroke-width="0.68" stroke-dasharray="1.5 1.6"/>
<rect x="304.00" y="325.80" width="107.30" height="24.60" fill="#fff" stroke="#141414" stroke-width="1.49"/>
<line x1="304.00" y1="334.90" x2="411.30" y2="334.90" stroke="#141414" stroke-width="0.94" stroke-dasharray="5 2"/>
<line x1="304.00" y1="344.40" x2="411.30" y2="344.40" stroke="#141414" stroke-width="0.94" stroke-dasharray="5 2"/>
<line x1="397.40" y1="325.80" x2="397.40" y2="350.40" stroke="#141414" stroke-width="0.81" stroke-dasharray="6 1.5"/>
<line x1="381.20" y1="325.80" x2="381.20" y2="350.40" stroke="#141414" stroke-width="0.81" stroke-dasharray="6 1.5"/>
<line x1="365.10" y1="325.80" x2="365.10" y2="350.40" stroke="#141414" stroke-width="0.81" stroke-dasharray="6 1.5"/>
<line x1="348.90" y1="325.80" x2="348.90" y2="350.40" stroke="#141414" stroke-width="0.81" stroke-dasharray="6 1.5"/>
<line x1="332.80" y1="325.80" x2="332.80" y2="350.40" stroke="#141414" stroke-width="0.81" stroke-dasharray="6 1.5"/>
<line x1="316.70" y1="325.80" x2="316.70" y2="350.40" stroke="#141414" stroke-width="0.81" stroke-dasharray="6 1.5"/>
<path d="M306.80,344.40 L309.60,341.60 L312.40,344.40 L309.60,347.20 Z" fill="#141414" stroke="#141414" stroke-width="0.54"/>
<path d="M402.50,344.40 L405.30,341.60 L408.10,344.40 L405.30,347.20 Z" fill="#141414" stroke="#141414" stroke-width="0.54"/>
<rect x="393.80" y="315.00" width="7.20" height="5.60" fill="#fff" stroke="#141414" stroke-width="1.22" rx="1"/>
<line x1="395.90" y1="315.00" x2="395.90" y2="320.60" stroke="#141414" stroke-width="0.94"/>
<line x1="398.90" y1="315.00" x2="398.90" y2="320.60" stroke="#141414" stroke-width="0.94"/>
<line x1="393.80" y1="317.80" x2="401.00" y2="317.80" stroke="#141414" stroke-width="0.68"/>
<rect x="395.40" y="320.60" width="4.00" height="2.70" fill="#fff" stroke="#141414" stroke-width="0.94"/>
<rect x="392.70" y="323.30" width="9.40" height="2.50" fill="#fff" stroke="#141414" stroke-width="0.94"/>
<rect x="393.30" y="350.40" width="8.20" height="18.80" fill="#fff" stroke="#141414" stroke-width="1.22"/>
<line x1="393.30" y1="360.40" x2="401.50" y2="360.40" stroke="#141414" stroke-width="0.94"/>
<line x1="394.80" y1="350.40" x2="394.80" y2="360.40" stroke="#141414" stroke-width="1.35"/>
<line x1="400.00" y1="350.40" x2="400.00" y2="360.40" stroke="#141414" stroke-width="1.35"/>
<line x1="394.60" y1="360.40" x2="394.60" y2="369.20" stroke="#141414" stroke-width="0.68"/>
<line x1="400.20" y1="360.40" x2="400.20" y2="369.20" stroke="#141414" stroke-width="0.68"/>
<line x1="397.40" y1="350.40" x2="397.40" y2="369.00" stroke="#fff" stroke-width="0.68"/>
<rect x="392.60" y="369.20" width="9.60" height="1.60" fill="#fff" stroke="#141414" stroke-width="0.94"/>
<path d="M393.80,370.80 L391.90,376.00 L402.90,376.00 L401.00,370.80 Z" fill="#fff" stroke="#141414" stroke-width="1.22"/>
<line x1="393.10" y1="372.60" x2="401.70" y2="372.60" stroke="#141414" stroke-width="0.81"/>
<line x1="392.40" y1="374.30" x2="402.40" y2="374.30" stroke="#141414" stroke-width="0.81"/>
<path d="M391.7,376 L391.7,381 Q391.7,382.6 393.2,382.6 L401.59999999999997,382.6 Q403.09999999999997,382.6 403.09999999999997,381 L403.09999999999997,376 Z" fill="#fff" stroke="#141414" stroke-width="1.22"/>
<line x1="393.60" y1="376.30" x2="393.60" y2="382.30" stroke="#141414" stroke-width="0.88"/>
<line x1="395.50" y1="376.30" x2="395.50" y2="382.30" stroke="#141414" stroke-width="0.88"/>
<line x1="397.40" y1="376.30" x2="397.40" y2="382.30" stroke="#141414" stroke-width="0.88"/>
<line x1="399.30" y1="376.30" x2="399.30" y2="382.30" stroke="#141414" stroke-width="0.88"/>
<line x1="401.20" y1="376.30" x2="401.20" y2="382.30" stroke="#141414" stroke-width="0.88"/>
<line x1="397.40" y1="382.50" x2="397.40" y2="387.00" stroke="#141414" stroke-width="0.94"/>
<line x1="397.40" y1="388.00" x2="397.40" y2="390.30" stroke="#555" stroke-width="0.81"/>
<line x1="395.10" y1="389.00" x2="399.70" y2="389.00" stroke="#666" stroke-width="0.68" stroke-dasharray="1.5 1.6"/>
<path d="M395.90,393.60 L398.90,393.60 L397.40,397.20 Z" fill="#141414" stroke="#141414" stroke-width="0.27"/>
<rect x="377.60" y="315.00" width="7.20" height="5.60" fill="#fff" stroke="#141414" stroke-width="1.22" rx="1"/>
<line x1="379.70" y1="315.00" x2="379.70" y2="320.60" stroke="#141414" stroke-width="0.94"/>
<line x1="382.70" y1="315.00" x2="382.70" y2="320.60" stroke="#141414" stroke-width="0.94"/>
<line x1="377.60" y1="317.80" x2="384.80" y2="317.80" stroke="#141414" stroke-width="0.68"/>
<rect x="379.20" y="320.60" width="4.00" height="2.70" fill="#fff" stroke="#141414" stroke-width="0.94"/>
<rect x="376.50" y="323.30" width="9.40" height="2.50" fill="#fff" stroke="#141414" stroke-width="0.94"/>
<rect x="377.10" y="350.40" width="8.20" height="18.80" fill="#fff" stroke="#141414" stroke-width="1.22"/>
<line x1="377.10" y1="360.40" x2="385.30" y2="360.40" stroke="#141414" stroke-width="0.94"/>
<line x1="378.60" y1="350.40" x2="378.60" y2="360.40" stroke="#141414" stroke-width="1.35"/>
<line x1="383.80" y1="350.40" x2="383.80" y2="360.40" stroke="#141414" stroke-width="1.35"/>
<line x1="378.40" y1="360.40" x2="378.40" y2="369.20" stroke="#141414" stroke-width="0.68"/>
<line x1="384.00" y1="360.40" x2="384.00" y2="369.20" stroke="#141414" stroke-width="0.68"/>
<line x1="381.20" y1="350.40" x2="381.20" y2="369.00" stroke="#fff" stroke-width="0.68"/>
<rect x="376.40" y="369.20" width="9.60" height="1.60" fill="#fff" stroke="#141414" stroke-width="0.94"/>
<path d="M377.60,370.80 L375.70,376.00 L386.70,376.00 L384.80,370.80 Z" fill="#fff" stroke="#141414" stroke-width="1.22"/>
<line x1="376.90" y1="372.60" x2="385.50" y2="372.60" stroke="#141414" stroke-width="0.81"/>
<line x1="376.20" y1="374.30" x2="386.20" y2="374.30" stroke="#141414" stroke-width="0.81"/>
<path d="M375.5,376 L375.5,381 Q375.5,382.6 377.0,382.6 L385.4,382.6 Q386.9,382.6 386.9,381 L386.9,376 Z" fill="#fff" stroke="#141414" stroke-width="1.22"/>
<line x1="377.40" y1="376.30" x2="377.40" y2="382.30" stroke="#141414" stroke-width="0.88"/>
<line x1="379.30" y1="376.30" x2="379.30" y2="382.30" stroke="#141414" stroke-width="0.88"/>
<line x1="381.20" y1="376.30" x2="381.20" y2="382.30" stroke="#141414" stroke-width="0.88"/>
<line x1="383.10" y1="376.30" x2="383.10" y2="382.30" stroke="#141414" stroke-width="0.88"/>
<line x1="385.00" y1="376.30" x2="385.00" y2="382.30" stroke="#141414" stroke-width="0.88"/>
<line x1="381.20" y1="382.50" x2="381.20" y2="387.00" stroke="#141414" stroke-width="0.94"/>
<line x1="381.20" y1="388.00" x2="381.20" y2="390.30" stroke="#555" stroke-width="0.81"/>
<line x1="378.90" y1="389.00" x2="383.50" y2="389.00" stroke="#666" stroke-width="0.68" stroke-dasharray="1.5 1.6"/>
<path d="M379.70,393.60 L382.70,393.60 L381.20,397.20 Z" fill="#141414" stroke="#141414" stroke-width="0.27"/>
<rect x="361.00" y="350.40" width="8.20" height="18.80" fill="#fff" stroke="#141414" stroke-width="1.22"/>
<line x1="361.00" y1="360.40" x2="369.20" y2="360.40" stroke="#141414" stroke-width="0.94"/>
<line x1="362.50" y1="350.40" x2="362.50" y2="360.40" stroke="#141414" stroke-width="1.35"/>
<line x1="367.70" y1="350.40" x2="367.70" y2="360.40" stroke="#141414" stroke-width="1.35"/>
<line x1="362.30" y1="360.40" x2="362.30" y2="369.20" stroke="#141414" stroke-width="0.68"/>
<line x1="367.90" y1="360.40" x2="367.90" y2="369.20" stroke="#141414" stroke-width="0.68"/>
<line x1="365.10" y1="350.40" x2="365.10" y2="369.00" stroke="#fff" stroke-width="0.68"/>
<rect x="360.30" y="369.20" width="9.60" height="1.60" fill="#fff" stroke="#141414" stroke-width="0.94"/>
<path d="M361.50,370.80 L359.60,376.00 L370.60,376.00 L368.70,370.80 Z" fill="#fff" stroke="#141414" stroke-width="1.22"/>
<line x1="360.80" y1="372.60" x2="369.40" y2="372.60" stroke="#141414" stroke-width="0.81"/>
<line x1="360.10" y1="374.30" x2="370.10" y2="374.30" stroke="#141414" stroke-width="0.81"/>
<path d="M359.40000000000003,376 L359.40000000000003,381 Q359.40000000000003,382.6 360.90000000000003,382.6 L369.3,382.6 Q370.8,382.6 370.8,381 L370.8,376 Z" fill="#fff" stroke="#141414" stroke-width="1.22"/>
<line x1="361.30" y1="376.30" x2="361.30" y2="382.30" stroke="#141414" stroke-width="0.88"/>
<line x1="363.20" y1="376.30" x2="363.20" y2="382.30" stroke="#141414" stroke-width="0.88"/>
<line x1="365.10" y1="376.30" x2="365.10" y2="382.30" stroke="#141414" stroke-width="0.88"/>
<line x1="367.00" y1="376.30" x2="367.00" y2="382.30" stroke="#141414" stroke-width="0.88"/>
<line x1="368.90" y1="376.30" x2="368.90" y2="382.30" stroke="#141414" stroke-width="0.88"/>
<line x1="365.10" y1="382.50" x2="365.10" y2="387.00" stroke="#141414" stroke-width="0.94"/>
<line x1="365.10" y1="388.00" x2="365.10" y2="390.30" stroke="#555" stroke-width="0.81"/>
<line x1="362.80" y1="389.00" x2="367.40" y2="389.00" stroke="#666" stroke-width="0.68" stroke-dasharray="1.5 1.6"/>
<path d="M363.60,393.60 L366.60,393.60 L365.10,397.20 Z" fill="#141414" stroke="#141414" stroke-width="0.27"/>
<rect x="345.30" y="315.00" width="7.20" height="5.60" fill="#fff" stroke="#141414" stroke-width="1.22" rx="1"/>
<line x1="347.40" y1="315.00" x2="347.40" y2="320.60" stroke="#141414" stroke-width="0.94"/>
<line x1="350.40" y1="315.00" x2="350.40" y2="320.60" stroke="#141414" stroke-width="0.94"/>
<line x1="345.30" y1="317.80" x2="352.50" y2="317.80" stroke="#141414" stroke-width="0.68"/>
<rect x="346.90" y="320.60" width="4.00" height="2.70" fill="#fff" stroke="#141414" stroke-width="0.94"/>
<rect x="344.20" y="323.30" width="9.40" height="2.50" fill="#fff" stroke="#141414" stroke-width="0.94"/>
<rect x="344.80" y="350.40" width="8.20" height="18.80" fill="#fff" stroke="#141414" stroke-width="1.22"/>
<line x1="344.80" y1="360.40" x2="353.00" y2="360.40" stroke="#141414" stroke-width="0.94"/>
<line x1="346.30" y1="350.40" x2="346.30" y2="360.40" stroke="#141414" stroke-width="1.35"/>
<line x1="351.50" y1="350.40" x2="351.50" y2="360.40" stroke="#141414" stroke-width="1.35"/>
<line x1="346.10" y1="360.40" x2="346.10" y2="369.20" stroke="#141414" stroke-width="0.68"/>
<line x1="351.70" y1="360.40" x2="351.70" y2="369.20" stroke="#141414" stroke-width="0.68"/>
<line x1="348.90" y1="350.40" x2="348.90" y2="369.00" stroke="#fff" stroke-width="0.68"/>
<rect x="344.10" y="369.20" width="9.60" height="1.60" fill="#fff" stroke="#141414" stroke-width="0.94"/>
<path d="M345.30,370.80 L343.40,376.00 L354.40,376.00 L352.50,370.80 Z" fill="#fff" stroke="#141414" stroke-width="1.22"/>
<line x1="344.60" y1="372.60" x2="353.20" y2="372.60" stroke="#141414" stroke-width="0.81"/>
<line x1="343.90" y1="374.30" x2="353.90" y2="374.30" stroke="#141414" stroke-width="0.81"/>
<path d="M343.2,376 L343.2,381 Q343.2,382.6 344.7,382.6 L353.09999999999997,382.6 Q354.59999999999997,382.6 354.59999999999997,381 L354.59999999999997,376 Z" fill="#fff" stroke="#141414" stroke-width="1.22"/>
<line x1="345.10" y1="376.30" x2="345.10" y2="382.30" stroke="#141414" stroke-width="0.88"/>
<line x1="347.00" y1="376.30" x2="347.00" y2="382.30" stroke="#141414" stroke-width="0.88"/>
<line x1="348.90" y1="376.30" x2="348.90" y2="382.30" stroke="#141414" stroke-width="0.88"/>
<line x1="350.80" y1="376.30" x2="350.80" y2="382.30" stroke="#141414" stroke-width="0.88"/>
<line x1="352.70" y1="376.30" x2="352.70" y2="382.30" stroke="#141414" stroke-width="0.88"/>
<line x1="348.90" y1="382.50" x2="348.90" y2="387.00" stroke="#141414" stroke-width="0.94"/>
<line x1="348.90" y1="388.00" x2="348.90" y2="390.30" stroke="#555" stroke-width="0.81"/>
<line x1="346.60" y1="389.00" x2="351.20" y2="389.00" stroke="#666" stroke-width="0.68" stroke-dasharray="1.5 1.6"/>
<path d="M347.40,393.60 L350.40,393.60 L348.90,397.20 Z" fill="#141414" stroke="#141414" stroke-width="0.27"/>
<rect x="329.20" y="315.00" width="7.20" height="5.60" fill="#fff" stroke="#141414" stroke-width="1.22" rx="1"/>
<line x1="331.30" y1="315.00" x2="331.30" y2="320.60" stroke="#141414" stroke-width="0.94"/>
<line x1="334.30" y1="315.00" x2="334.30" y2="320.60" stroke="#141414" stroke-width="0.94"/>
<line x1="329.20" y1="317.80" x2="336.40" y2="317.80" stroke="#141414" stroke-width="0.68"/>
<rect x="330.80" y="320.60" width="4.00" height="2.70" fill="#fff" stroke="#141414" stroke-width="0.94"/>
<rect x="328.10" y="323.30" width="9.40" height="2.50" fill="#fff" stroke="#141414" stroke-width="0.94"/>
<rect x="328.70" y="350.40" width="8.20" height="18.80" fill="#fff" stroke="#141414" stroke-width="1.22"/>
<line x1="328.70" y1="360.40" x2="336.90" y2="360.40" stroke="#141414" stroke-width="0.94"/>
<line x1="330.20" y1="350.40" x2="330.20" y2="360.40" stroke="#141414" stroke-width="1.35"/>
<line x1="335.40" y1="350.40" x2="335.40" y2="360.40" stroke="#141414" stroke-width="1.35"/>
<line x1="330.00" y1="360.40" x2="330.00" y2="369.20" stroke="#141414" stroke-width="0.68"/>
<line x1="335.60" y1="360.40" x2="335.60" y2="369.20" stroke="#141414" stroke-width="0.68"/>
<line x1="332.80" y1="350.40" x2="332.80" y2="369.00" stroke="#fff" stroke-width="0.68"/>
<rect x="328.00" y="369.20" width="9.60" height="1.60" fill="#fff" stroke="#141414" stroke-width="0.94"/>
<path d="M329.20,370.80 L327.30,376.00 L338.30,376.00 L336.40,370.80 Z" fill="#fff" stroke="#141414" stroke-width="1.22"/>
<line x1="328.50" y1="372.60" x2="337.10" y2="372.60" stroke="#141414" stroke-width="0.81"/>
<line x1="327.80" y1="374.30" x2="337.80" y2="374.30" stroke="#141414" stroke-width="0.81"/>
<path d="M327.1,376 L327.1,381 Q327.1,382.6 328.6,382.6 L337.0,382.6 Q338.5,382.6 338.5,381 L338.5,376 Z" fill="#fff" stroke="#141414" stroke-width="1.22"/>
<line x1="329.00" y1="376.30" x2="329.00" y2="382.30" stroke="#141414" stroke-width="0.88"/>
<line x1="330.90" y1="376.30" x2="330.90" y2="382.30" stroke="#141414" stroke-width="0.88"/>
<line x1="332.80" y1="376.30" x2="332.80" y2="382.30" stroke="#141414" stroke-width="0.88"/>
<line x1="334.70" y1="376.30" x2="334.70" y2="382.30" stroke="#141414" stroke-width="0.88"/>
<line x1="336.60" y1="376.30" x2="336.60" y2="382.30" stroke="#141414" stroke-width="0.88"/>
<line x1="332.80" y1="382.50" x2="332.80" y2="387.00" stroke="#141414" stroke-width="0.94"/>
<line x1="332.80" y1="388.00" x2="332.80" y2="390.30" stroke="#555" stroke-width="0.81"/>
<line x1="330.50" y1="389.00" x2="335.10" y2="389.00" stroke="#666" stroke-width="0.68" stroke-dasharray="1.5 1.6"/>
<path d="M331.30,393.60 L334.30,393.60 L332.80,397.20 Z" fill="#141414" stroke="#141414" stroke-width="0.27"/>
<rect x="313.10" y="315.00" width="7.20" height="5.60" fill="#fff" stroke="#141414" stroke-width="1.22" rx="1"/>
<line x1="315.20" y1="315.00" x2="315.20" y2="320.60" stroke="#141414" stroke-width="0.94"/>
<line x1="318.20" y1="315.00" x2="318.20" y2="320.60" stroke="#141414" stroke-width="0.94"/>
<line x1="313.10" y1="317.80" x2="320.30" y2="317.80" stroke="#141414" stroke-width="0.68"/>
<rect x="314.70" y="320.60" width="4.00" height="2.70" fill="#fff" stroke="#141414" stroke-width="0.94"/>
<rect x="312.00" y="323.30" width="9.40" height="2.50" fill="#fff" stroke="#141414" stroke-width="0.94"/>
<rect x="312.60" y="350.40" width="8.20" height="18.80" fill="#fff" stroke="#141414" stroke-width="1.22"/>
<line x1="312.60" y1="360.40" x2="320.80" y2="360.40" stroke="#141414" stroke-width="0.94"/>
<line x1="314.10" y1="350.40" x2="314.10" y2="360.40" stroke="#141414" stroke-width="1.35"/>
<line x1="319.30" y1="350.40" x2="319.30" y2="360.40" stroke="#141414" stroke-width="1.35"/>
<line x1="313.90" y1="360.40" x2="313.90" y2="369.20" stroke="#141414" stroke-width="0.68"/>
<line x1="319.50" y1="360.40" x2="319.50" y2="369.20" stroke="#141414" stroke-width="0.68"/>
<line x1="316.70" y1="350.40" x2="316.70" y2="369.00" stroke="#fff" stroke-width="0.68"/>
<rect x="311.90" y="369.20" width="9.60" height="1.60" fill="#fff" stroke="#141414" stroke-width="0.94"/>
<path d="M313.10,370.80 L311.20,376.00 L322.20,376.00 L320.30,370.80 Z" fill="#fff" stroke="#141414" stroke-width="1.22"/>
<line x1="312.40" y1="372.60" x2="321.00" y2="372.60" stroke="#141414" stroke-width="0.81"/>
<line x1="311.70" y1="374.30" x2="321.70" y2="374.30" stroke="#141414" stroke-width="0.81"/>
<path d="M311.0,376 L311.0,381 Q311.0,382.6 312.5,382.6 L320.9,382.6 Q322.4,382.6 322.4,381 L322.4,376 Z" fill="#fff" stroke="#141414" stroke-width="1.22"/>
<line x1="312.90" y1="376.30" x2="312.90" y2="382.30" stroke="#141414" stroke-width="0.88"/>
<line x1="314.80" y1="376.30" x2="314.80" y2="382.30" stroke="#141414" stroke-width="0.88"/>
<line x1="316.70" y1="376.30" x2="316.70" y2="382.30" stroke="#141414" stroke-width="0.88"/>
<line x1="318.60" y1="376.30" x2="318.60" y2="382.30" stroke="#141414" stroke-width="0.88"/>
<line x1="320.50" y1="376.30" x2="320.50" y2="382.30" stroke="#141414" stroke-width="0.88"/>
<line x1="316.70" y1="382.50" x2="316.70" y2="387.00" stroke="#141414" stroke-width="0.94"/>
<line x1="316.70" y1="388.00" x2="316.70" y2="390.30" stroke="#555" stroke-width="0.81"/>
<line x1="314.40" y1="389.00" x2="319.00" y2="389.00" stroke="#666" stroke-width="0.68" stroke-dasharray="1.5 1.6"/>
<path d="M315.20,393.60 L318.20,393.60 L316.70,397.20 Z" fill="#141414" stroke="#141414" stroke-width="0.27"/>
<rect x="215.60" y="328.00" width="5.40" height="15.00" fill="#fff" stroke="#141414" stroke-width="1.08"/>
<line x1="215.60" y1="332.05" x2="221.00" y2="332.05" stroke="#141414" stroke-width="0.81"/>
<line x1="215.60" y1="338.95" x2="221.00" y2="338.95" stroke="#141414" stroke-width="0.81"/>
<rect x="221.00" y="329.50" width="3.00" height="10.50" fill="none" stroke="#141414" stroke-width="0.94"/>
<rect x="224.00" y="323.60" width="7.60" height="22.00" fill="#fff" stroke="#141414" stroke-width="1.08"/>
<line x1="224.00" y1="329.54" x2="231.60" y2="329.54" stroke="#141414" stroke-width="0.81"/>
<line x1="224.00" y1="339.66" x2="231.60" y2="339.66" stroke="#141414" stroke-width="0.81"/>
<rect x="231.60" y="327.60" width="72.40" height="14.00" fill="#fff" stroke="#141414" stroke-width="1.22"/>
<line x1="243.60" y1="327.60" x2="243.60" y2="341.60" stroke="#141414" stroke-width="0.94"/>
<line x1="274.40" y1="327.60" x2="274.40" y2="341.60" stroke="#141414" stroke-width="0.94"/>
<path d="M259.4,327.90000000000003 A6.7,6.7 0 0 0 259.4,341.3" fill="none" stroke="#141414" stroke-width="1.08"/>
<rect x="287.00" y="323.60" width="7.00" height="21.40" fill="#fff" stroke="#141414" stroke-width="1.08"/>
<line x1="287.00" y1="327.60" x2="294.00" y2="327.60" stroke="#141414" stroke-width="0.81"/>
<line x1="287.00" y1="341.60" x2="294.00" y2="341.60" stroke="#141414" stroke-width="0.81"/>
<rect x="298.00" y="325.00" width="5.00" height="19.00" fill="#fff" stroke="#141414" stroke-width="0.94"/>
<line x1="298.00" y1="327.60" x2="303.00" y2="327.60" stroke="#141414" stroke-width="0.81"/>
<line x1="298.00" y1="341.60" x2="303.00" y2="341.60" stroke="#141414" stroke-width="0.81"/>
<line x1="100.00" y1="334.70" x2="420.00" y2="334.70" stroke="#141414" stroke-width="0.68" stroke-dasharray="5 1.5 1 1.5"/>
<path d="M304,327.6 L351.8,327.6 A8.1,8.1 0 0 0 359.9,319.5 L359.9,317 L372.8,317 L372.8,320.6 A21,21 0 0 1 351.8,341.6 L304,341.6 Z" fill="#fff"/>
<path d="M304,327.6 L351.8,327.6 A8.1,8.1 0 0 0 359.9,319.5 L359.9,316" fill="none" stroke="#141414" stroke-width="1.22"/>
<path d="M304,341.6 L351.8,341.6 A21,21 0 0 0 372.8,320.6 L372.8,316" fill="none" stroke="#141414" stroke-width="1.22"/>
<path d="M340,334.7 L351.8,334.7 A14,14 0 0 0 365.8,320.7" fill="none" stroke="#141414" stroke-width="0.81" stroke-dasharray="5 1.5 1 1.5"/>
<path d="M351.8,338.3 A17.6,17.6 0 0 0 369.4,320.7" fill="none" stroke="#141414" stroke-width="0.68"/>
<line x1="351.80" y1="327.60" x2="351.80" y2="341.60" stroke="#141414" stroke-width="0.81"/>
<line x1="359.90" y1="319.50" x2="372.80" y2="320.60" stroke="#141414" stroke-width="0.81"/>
<line x1="214.40" y1="352.90" x2="304.00" y2="352.90" stroke="#141414" stroke-width="0.74"/>
<path d="M60.5,142.9 L68,142.9 Q69.5,142.9 69.5,144.3 L69.5,158.3 Q69.5,159.70000000000002 68,159.70000000000002 L60.5,159.70000000000002 Z" fill="#fff" stroke="#141414" stroke-width="1.22"/>
<line x1="60.50" y1="147.10" x2="69.50" y2="147.10" stroke="#141414" stroke-width="0.81"/>
<line x1="60.50" y1="151.30" x2="69.50" y2="151.30" stroke="#141414" stroke-width="0.81"/>
<line x1="60.50" y1="155.50" x2="69.50" y2="155.50" stroke="#141414" stroke-width="0.81"/>
<path d="M69.50,144.70 L75.00,145.70 L75.00,156.90 L69.50,157.90" fill="#fff" stroke="#141414" stroke-width="1.08"/>
<line x1="71.30" y1="145.10" x2="71.30" y2="157.50" stroke="#141414" stroke-width="0.68"/>
<line x1="73.20" y1="145.40" x2="73.20" y2="157.20" stroke="#141414" stroke-width="0.68"/>
<path d="M75,143.3 L81.5,143.3 Q83,143.3 83,144.8 L83,157.8 Q83,159.3 81.5,159.3 L75,159.3 Z" fill="#fff" stroke="#141414" stroke-width="1.22"/>
<line x1="75.00" y1="147.30" x2="83.00" y2="147.30" stroke="#141414" stroke-width="0.81"/>
<line x1="75.00" y1="155.30" x2="83.00" y2="155.30" stroke="#141414" stroke-width="0.81"/>
<rect x="83.00" y="145.50" width="2.00" height="11.60" fill="#fff" stroke="#141414" stroke-width="0.94"/>
<line x1="78.00" y1="142.30" x2="78.00" y2="160.30" stroke="#141414" stroke-width="2.03"/>
<line x1="53.00" y1="151.30" x2="95.40" y2="151.30" stroke="#141414" stroke-width="0.94"/>
<rect x="116.00" y="135.20" width="28.60" height="40.60" fill="none" stroke="#141414" stroke-width="1.08"/>
<text x="4.60" y="120.00" font-size="8" text-anchor="start" class="cjk" font-weight="700" textLength="47.6" lengthAdjust="spacingAndGlyphs">压缩空气进口</text>
<line x1="5.30" y1="123.40" x2="53.70" y2="123.40" stroke="#141414" stroke-width="1.08" stroke-dasharray="9 3.6"/>
<path d="M53.70,123.40 L63.50,105.00 L68.00,95.00" fill="none" stroke="#141414" stroke-width="0.94"/>
<text x="6.20" y="191.10" font-size="8" text-anchor="start" class="cjk" font-weight="700" textLength="40.6" lengthAdjust="spacingAndGlyphs">压力油进口</text>
<line x1="6.20" y1="194.20" x2="47.00" y2="194.20" stroke="#141414" stroke-width="1.08" stroke-dasharray="9 3.6"/>
<path d="M46.00,194.20 L48.30,194.20 L62.30,218.20" fill="none" stroke="#141414" stroke-width="0.94"/>
<path d="M62.50,218.50 L59.35,214.51 L60.94,213.67 Z" fill="#141414" stroke="#141414" stroke-width="0.41"/>
<text x="426.00" y="421.20" font-size="8" text-anchor="start" class="cjk" font-weight="700" textLength="31" lengthAdjust="spacingAndGlyphs">油气出口</text>
<line x1="423.70" y1="423.50" x2="457.00" y2="423.50" stroke="#141414" stroke-width="1.08" stroke-dasharray="8 3.6"/>
<line x1="423.70" y1="423.50" x2="397.70" y2="395.70" stroke="#141414" stroke-width="0.94"/>
<path d="M397.50,395.50 L402.32,399.21 L400.86,400.57 Z" fill="#141414" stroke="#141414" stroke-width="0.41"/>
<line x1="54.00" y1="222.50" x2="58.70" y2="222.50" stroke="#141414" stroke-width="0.81"/>
<line x1="46.00" y1="369.20" x2="78.00" y2="369.20" stroke="#141414" stroke-width="0.81"/>
<line x1="56.80" y1="222.70" x2="56.80" y2="369.20" stroke="#141414" stroke-width="0.94"/>
<path d="M56.80,222.70 L57.75,229.20 L55.85,229.20 Z" fill="#141414" stroke="#141414" stroke-width="0.41"/>
<path d="M56.80,369.20 L55.85,362.70 L57.75,362.70 Z" fill="#141414" stroke="#141414" stroke-width="0.41"/>
<text x="0" y="0" transform="translate(55.20 296.50) rotate(-90) scale(1.07 1)" font-size="12" text-anchor="middle" class="num" font-weight="normal" letter-spacing="0.4">376</text>
<line x1="51.00" y1="359.50" x2="62.00" y2="359.50" stroke="#141414" stroke-width="0.81"/>
<line x1="122.20" y1="398.00" x2="122.20" y2="416.00" stroke="#141414" stroke-width="0.81"/>
<line x1="203.00" y1="398.00" x2="203.00" y2="416.00" stroke="#141414" stroke-width="0.81"/>
<line x1="316.70" y1="398.00" x2="316.70" y2="416.00" stroke="#141414" stroke-width="0.81"/>
<line x1="397.40" y1="398.00" x2="397.40" y2="416.00" stroke="#141414" stroke-width="0.81"/>
<line x1="122.20" y1="412.50" x2="203.00" y2="412.50" stroke="#141414" stroke-width="0.94"/>
<path d="M122.20,412.50 L130.70,411.35 L130.70,413.65 Z" fill="#141414" stroke="#141414" stroke-width="0.41"/>
<path d="M203.00,412.50 L194.50,413.65 L194.50,411.35 Z" fill="#141414" stroke="#141414" stroke-width="0.41"/>
<line x1="203.00" y1="412.50" x2="316.70" y2="412.50" stroke="#141414" stroke-width="0.94"/>
<path d="M203.00,412.50 L211.50,411.35 L211.50,413.65 Z" fill="#141414" stroke="#141414" stroke-width="0.41"/>
<path d="M316.70,412.50 L308.20,413.65 L308.20,411.35 Z" fill="#141414" stroke="#141414" stroke-width="0.41"/>
<line x1="316.70" y1="412.50" x2="397.40" y2="412.50" stroke="#141414" stroke-width="0.94"/>
<path d="M316.70,412.50 L325.20,411.35 L325.20,413.65 Z" fill="#141414" stroke="#141414" stroke-width="0.41"/>
<path d="M397.40,412.50 L388.90,413.65 L388.90,411.35 Z" fill="#141414" stroke="#141414" stroke-width="0.41"/>
<text x="0" y="0" transform="translate(134.40 410.60) scale(1.07 1)" font-size="12" text-anchor="start" class="num" font-weight="normal" letter-spacing="0.2" word-spacing="-1.6">40 × 5=200</text>
<text x="0" y="0" transform="translate(257.40 410.60) scale(1.07 1)" font-size="12" text-anchor="middle" class="num" font-weight="normal" letter-spacing="0.4">284</text>
<text x="0" y="0" transform="translate(329.20 410.60) scale(1.07 1)" font-size="12" text-anchor="start" class="num" font-weight="normal" letter-spacing="0.2" word-spacing="-1.6">40 × 5=200</text>
<line x1="453.00" y1="50.40" x2="468.00" y2="50.40" stroke="#141414" stroke-width="0.81"/>
<line x1="452.00" y1="358.80" x2="467.00" y2="358.80" stroke="#141414" stroke-width="0.81"/>
<line x1="464.50" y1="50.40" x2="464.50" y2="358.80" stroke="#141414" stroke-width="0.94"/>
<path d="M464.50,50.40 L465.45,56.90 L463.55,56.90 Z" fill="#141414" stroke="#141414" stroke-width="0.41"/>
<path d="M464.50,358.80 L463.55,352.30 L465.45,352.30 Z" fill="#141414" stroke="#141414" stroke-width="0.41"/>
<line x1="457.30" y1="369.30" x2="478.50" y2="369.30" stroke="#141414" stroke-width="0.81"/>
<line x1="475.70" y1="41.00" x2="475.70" y2="369.20" stroke="#141414" stroke-width="0.94"/>
<path d="M475.70,41.00 L476.65,47.50 L474.75,47.50 Z" fill="#141414" stroke="#141414" stroke-width="0.41"/>
<path d="M475.70,369.20 L474.75,362.70 L476.65,362.70 Z" fill="#141414" stroke="#141414" stroke-width="0.41"/>
<text x="0" y="0" transform="translate(462.50 202.50) rotate(-90) scale(1.07 1)" font-size="12" text-anchor="middle" class="num" font-weight="normal" letter-spacing="0.4">750</text>
<text x="0" y="0" transform="translate(474.40 202.50) rotate(-90) scale(1.07 1)" font-size="12" text-anchor="middle" class="num" font-weight="normal" letter-spacing="0.4">800</text>
<line x1="481.80" y1="41.00" x2="481.80" y2="90.80" stroke="#141414" stroke-width="0.94"/>
<path d="M481.80,41.00 L482.75,47.50 L480.85,47.50 Z" fill="#141414" stroke="#141414" stroke-width="0.41"/>
<path d="M481.80,90.80 L480.85,84.30 L482.75,84.30 Z" fill="#141414" stroke="#141414" stroke-width="0.41"/>
<line x1="479.00" y1="91.00" x2="522.00" y2="91.00" stroke="#141414" stroke-width="0.81"/>
<text x="0" y="0" transform="translate(480.20 65.00) rotate(-90) scale(1.07 1)" font-size="12" text-anchor="middle" class="num" font-weight="normal" letter-spacing="0.4">125</text>
<path d="M580.80,40.70 L493.00,40.70 L493.00,368.00 L580.70,368.00" fill="none" stroke="#141414" stroke-width="2.03"/>
<path d="M580.80,40.70 L580.80,50.30 L584.80,50.30 L592.40,43.80" fill="none" stroke="#141414" stroke-width="1.76"/>
<path d="M580.70,368.00 L580.70,358.60 L585.00,358.60 L592.60,366.40" fill="none" stroke="#141414" stroke-width="1.76"/>
<line x1="584.60" y1="40.70" x2="593.70" y2="40.70" stroke="#141414" stroke-width="1.76"/>
<line x1="585.00" y1="368.00" x2="593.70" y2="368.00" stroke="#141414" stroke-width="1.76"/>
<line x1="593.20" y1="40.70" x2="593.20" y2="368.00" stroke="#141414" stroke-width="2.43"/>
<line x1="580.80" y1="50.30" x2="580.80" y2="358.60" stroke="#141414" stroke-width="0.94"/>
<line x1="584.80" y1="40.70" x2="584.80" y2="368.00" stroke="#141414" stroke-width="0.94"/>
<line x1="493.00" y1="17.00" x2="493.00" y2="40.00" stroke="#141414" stroke-width="0.81"/>
<line x1="593.70" y1="17.00" x2="593.70" y2="40.00" stroke="#141414" stroke-width="0.81"/>
<line x1="541.50" y1="32.00" x2="541.50" y2="120.00" stroke="#141414" stroke-width="0.81"/>
<line x1="493.00" y1="20.50" x2="593.70" y2="20.50" stroke="#141414" stroke-width="0.94"/>
<path d="M493.00,20.50 L501.50,19.35 L501.50,21.65 Z" fill="#141414" stroke="#141414" stroke-width="0.41"/>
<path d="M593.70,20.50 L585.20,21.65 L585.20,19.35 Z" fill="#141414" stroke="#141414" stroke-width="0.41"/>
<line x1="493.00" y1="35.50" x2="541.50" y2="35.50" stroke="#141414" stroke-width="0.94"/>
<path d="M493.00,35.50 L501.50,34.35 L501.50,36.65 Z" fill="#141414" stroke="#141414" stroke-width="0.41"/>
<path d="M541.50,35.50 L533.00,36.65 L533.00,34.35 Z" fill="#141414" stroke="#141414" stroke-width="0.41"/>
<text x="0" y="0" transform="translate(543.30 18.00) scale(1.07 1)" font-size="12" text-anchor="middle" class="num" font-weight="normal" letter-spacing="0.4">250</text>
<text x="0" y="0" transform="translate(517.60 33.20) scale(1.07 1)" font-size="12" text-anchor="middle" class="num" font-weight="normal" letter-spacing="0.4">127</text>
<line x1="495.90" y1="57.00" x2="495.90" y2="352.00" stroke="#141414" stroke-width="0.94"/>
<line x1="497.60" y1="57.00" x2="497.60" y2="352.00" stroke="#141414" stroke-width="0.81"/>
<line x1="495.90" y1="57.00" x2="497.60" y2="57.00" stroke="#141414" stroke-width="0.81"/>
<rect x="497.60" y="69.20" width="4.80" height="7.60" fill="none" stroke="#141414" stroke-width="1.08"/>
<line x1="489.00" y1="72.80" x2="503.50" y2="72.80" stroke="#141414" stroke-width="0.68"/>
<path d="M497.60,79.70 L525.00,79.70" fill="none" stroke="#141414" stroke-width="1.08"/>
<path d="M497.60,117.30 L517.00,117.30 L521.40,106.00 L524.70,106.00" fill="none" stroke="#141414" stroke-width="1.08"/>
<line x1="513.00" y1="79.70" x2="513.00" y2="117.50" stroke="#141414" stroke-width="1.08"/>
<rect x="528.40" y="71.70" width="22.90" height="3.60" fill="none" stroke="#141414" stroke-width="1.08"/>
<rect x="524.70" y="75.30" width="32.30" height="34.20" fill="none" stroke="#141414" stroke-width="1.22"/>
<path d="M526,109.5 L526,84 Q526,80 530,80 L552,80 Q556,80 556,84 L556,109.5" fill="none" stroke="#141414" stroke-width="0.81"/>
<circle cx="541.50" cy="91.40" r="10.00" fill="none" stroke="#141414" stroke-width="1.22"/>
<circle cx="541.50" cy="91.40" r="7.60" fill="none" stroke="#141414" stroke-width="2.16"/>
<circle cx="541.50" cy="91.40" r="5.00" fill="none" stroke="#141414" stroke-width="1.22"/>
<circle cx="541.50" cy="91.40" r="3.00" fill="none" stroke="#141414" stroke-width="0.94"/>
<line x1="526.00" y1="91.40" x2="575.00" y2="91.40" stroke="#141414" stroke-width="0.68"/>
<rect x="557.00" y="86.70" width="4.40" height="9.30" fill="none" stroke="#141414" stroke-width="1.08"/>
<line x1="557.00" y1="89.50" x2="561.40" y2="89.50" stroke="#141414" stroke-width="0.68"/>
<line x1="557.00" y1="93.20" x2="561.40" y2="93.20" stroke="#141414" stroke-width="0.68"/>
<rect x="562.30" y="78.80" width="7.10" height="24.50" fill="none" stroke="#141414" stroke-width="1.35" rx="1.5"/>
<line x1="561.40" y1="91.40" x2="562.30" y2="91.40" stroke="#141414" stroke-width="1.08"/>
<path d="M550.70,85.30 L556.70,83.40 L556.70,98.60 L550.70,97.00" fill="none" stroke="#141414" stroke-width="1.08"/>
<path d="M555.2,98.8 L565.5,112.8 L565.5,120.6 M557,98.2 L567.2,112 L567.2,120.6" fill="none" stroke="#141414" stroke-width="1.08"/>
<rect x="562.80" y="120.60" width="5.90" height="19.70" fill="none" stroke="#141414" stroke-width="1.22"/>
<path d="M525.7,109.5 L525.7,166.5 Q525.7,170.5 529.7,170.5 L553,170.5 Q557,170.5 557,166.5 L557,109.5" fill="none" stroke="#141414" stroke-width="1.22"/>
<rect x="528.80" y="114.90" width="6.20" height="51.50" fill="none" stroke="#141414" stroke-width="1.08" rx="3.1"/>
<rect x="547.20" y="114.90" width="6.20" height="51.50" fill="none" stroke="#141414" stroke-width="1.08" rx="3.1"/>
<line x1="541.50" y1="118.00" x2="541.50" y2="186.00" stroke="#141414" stroke-width="0.81" stroke-dasharray="5 1.5 1 1.5"/>
<rect x="528.70" y="170.50" width="23.60" height="9.10" fill="none" stroke="#141414" stroke-width="1.08"/>
<line x1="530.85" y1="170.50" x2="530.85" y2="179.60" stroke="#141414" stroke-width="0.81"/>
<line x1="533.00" y1="170.50" x2="533.00" y2="179.60" stroke="#141414" stroke-width="0.81"/>
<line x1="535.15" y1="170.50" x2="535.15" y2="179.60" stroke="#141414" stroke-width="0.81"/>
<line x1="537.30" y1="170.50" x2="537.30" y2="179.60" stroke="#141414" stroke-width="0.81"/>
<line x1="539.45" y1="170.50" x2="539.45" y2="179.60" stroke="#141414" stroke-width="0.81"/>
<line x1="541.60" y1="170.50" x2="541.60" y2="179.60" stroke="#141414" stroke-width="0.81"/>
<line x1="543.75" y1="170.50" x2="543.75" y2="179.60" stroke="#141414" stroke-width="0.81"/>
<line x1="545.90" y1="170.50" x2="545.90" y2="179.60" stroke="#141414" stroke-width="0.81"/>
<line x1="548.05" y1="170.50" x2="548.05" y2="179.60" stroke="#141414" stroke-width="0.81"/>
<line x1="550.20" y1="170.50" x2="550.20" y2="179.60" stroke="#141414" stroke-width="0.81"/>
<rect x="537.40" y="179.60" width="8.00" height="4.00" fill="none" stroke="#141414" stroke-width="1.08"/>
<rect x="533.00" y="186.20" width="15.80" height="5.30" fill="#fff" stroke="#141414" stroke-width="1.08"/>
<line x1="537.27" y1="186.20" x2="537.27" y2="191.50" stroke="#141414" stroke-width="0.81"/>
<line x1="544.53" y1="186.20" x2="544.53" y2="191.50" stroke="#141414" stroke-width="0.81"/>
<rect x="534.80" y="191.50" width="12.20" height="3.50" fill="none" stroke="#141414" stroke-width="0.94"/>
<rect x="531.30" y="195.00" width="20.10" height="7.80" fill="#fff" stroke="#141414" stroke-width="1.08"/>
<line x1="536.73" y1="195.00" x2="536.73" y2="202.80" stroke="#141414" stroke-width="0.81"/>
<line x1="545.97" y1="195.00" x2="545.97" y2="202.80" stroke="#141414" stroke-width="0.81"/>
<rect x="534.80" y="202.80" width="13.20" height="5.70" fill="none" stroke="#141414" stroke-width="1.08"/>
<text x="0" y="0" transform="translate(504.00 179.40) scale(1.07 1)" font-size="12" text-anchor="middle" class="num" font-weight="normal" letter-spacing="0.4">55</text>
<line x1="495.90" y1="182.50" x2="513.80" y2="182.50" stroke="#141414" stroke-width="0.94"/>
<path d="M495.90,182.50 L502.90,181.50 L502.90,183.50 Z" fill="#141414" stroke="#141414" stroke-width="0.41"/>
<path d="M513.80,182.50 L506.80,183.50 L506.80,181.50 Z" fill="#141414" stroke="#141414" stroke-width="0.41"/>
<line x1="513.80" y1="180.00" x2="513.80" y2="208.00" stroke="#141414" stroke-width="0.81"/>
<rect x="509.50" y="195.00" width="8.70" height="2.60" fill="none" stroke="#141414" stroke-width="0.94"/>
<rect x="506.90" y="197.60" width="15.70" height="14.90" fill="none" stroke="#141414" stroke-width="1.22"/>
<line x1="513.80" y1="190.00" x2="513.80" y2="197.00" stroke="#141414" stroke-width="0.68"/>
<line x1="495.90" y1="208.10" x2="506.90" y2="208.10" stroke="#141414" stroke-width="0.94"/>
<line x1="495.90" y1="212.50" x2="532.00" y2="212.50" stroke="#141414" stroke-width="0.94"/>
<line x1="522.60" y1="208.10" x2="532.00" y2="208.10" stroke="#141414" stroke-width="0.94"/>
<rect x="511.20" y="213.40" width="11.40" height="17.40" fill="none" stroke="#141414" stroke-width="1.08"/>
<circle cx="514.70" cy="222.10" r="3.50" fill="#333" stroke="#141414" stroke-width="1.08"/>
<circle cx="514.70" cy="222.10" r="1.20" fill="#fff" stroke="#fff" stroke-width="0.54"/>
<line x1="500.00" y1="222.10" x2="527.00" y2="222.10" stroke="#141414" stroke-width="0.81"/>
<line x1="514.70" y1="214.00" x2="514.70" y2="236.00" stroke="#141414" stroke-width="0.68"/>
<line x1="495.90" y1="230.80" x2="511.20" y2="230.80" stroke="#141414" stroke-width="0.94"/>
<path d="M518.50,218.50 L522.60,216.90 L525.60,216.90" fill="none" stroke="#141414" stroke-width="0.81"/>
<path d="M518.50,225.70 L522.60,227.30 L525.60,227.30" fill="none" stroke="#141414" stroke-width="0.81"/>
<rect x="525.60" y="216.90" width="11.00" height="10.40" fill="#333" stroke="#141414" stroke-width="1.08"/>
<line x1="527.40" y1="217.20" x2="527.40" y2="227.00" stroke="#bbb" stroke-width="0.54"/>
<line x1="529.20" y1="217.20" x2="529.20" y2="227.00" stroke="#bbb" stroke-width="0.54"/>
<line x1="531.00" y1="217.20" x2="531.00" y2="227.00" stroke="#bbb" stroke-width="0.54"/>
<line x1="532.80" y1="217.20" x2="532.80" y2="227.00" stroke="#bbb" stroke-width="0.54"/>
<line x1="534.60" y1="217.20" x2="534.60" y2="227.00" stroke="#bbb" stroke-width="0.54"/>
<rect x="531.30" y="209.90" width="5.30" height="7.00" fill="none" stroke="#141414" stroke-width="0.94"/>
<rect x="531.30" y="227.30" width="5.30" height="5.30" fill="none" stroke="#141414" stroke-width="0.94"/>
<rect x="536.60" y="209.90" width="4.00" height="24.40" fill="#555" stroke="#141414" stroke-width="1.22"/>
<rect x="540.60" y="209.00" width="7.40" height="5.20" fill="none" stroke="#141414" stroke-width="0.94"/>
<line x1="540.60" y1="222.10" x2="552.00" y2="222.10" stroke="#141414" stroke-width="0.68"/>
<rect x="511.20" y="236.00" width="9.60" height="2.70" fill="none" stroke="#141414" stroke-width="0.94"/>
<rect x="513.00" y="238.70" width="7.00" height="1.30" fill="none" stroke="#141414" stroke-width="0.81"/>
<line x1="534.00" y1="236.00" x2="534.00" y2="327.60" stroke="#141414" stroke-width="1.22"/>
<line x1="548.00" y1="214.20" x2="548.00" y2="326.00" stroke="#141414" stroke-width="1.22"/>
<line x1="534.00" y1="243.90" x2="548.00" y2="243.90" stroke="#141414" stroke-width="0.94"/>
<line x1="534.00" y1="236.00" x2="540.60" y2="236.00" stroke="#141414" stroke-width="0.94"/>
<line x1="541.30" y1="236.00" x2="541.30" y2="330.00" stroke="#141414" stroke-width="0.81" stroke-dasharray="4 1.5"/>
<line x1="534.00" y1="318.00" x2="548.00" y2="318.00" stroke="#141414" stroke-width="0.94"/>
<rect x="501.60" y="239.90" width="19.20" height="59.80" fill="none" stroke="#141414" stroke-width="1.22"/>
<line x1="501.60" y1="246.90" x2="520.80" y2="246.90" stroke="#141414" stroke-width="0.94"/>
<line x1="506.90" y1="246.90" x2="506.90" y2="299.70" stroke="#141414" stroke-width="0.81"/>
<circle cx="509.30" cy="251.70" r="1.90" fill="#fff" stroke="#141414" stroke-width="1.35"/>
<circle cx="513.60" cy="251.70" r="1.90" fill="#fff" stroke="#141414" stroke-width="1.35"/>
<circle cx="517.60" cy="251.70" r="1.90" fill="#fff" stroke="#141414" stroke-width="1.35"/>
<line x1="507.00" y1="251.70" x2="520.80" y2="251.70" stroke="#141414" stroke-width="0.54"/>
<rect x="520.80" y="250.30" width="2.40" height="2.80" fill="#333" stroke="#141414" stroke-width="0.68"/>
<path d="M508,254.2 Q503.5,257.7 503,265.7" fill="none" stroke="#141414" stroke-width="0.81"/>
<path d="M512,253.89999999999998 L508,257.7" fill="none" stroke="#141414" stroke-width="0.81"/>
<path d="M516.5,253.89999999999998 L512,257.7" fill="none" stroke="#141414" stroke-width="0.81"/>
<circle cx="509.30" cy="259.80" r="1.90" fill="#fff" stroke="#141414" stroke-width="1.35"/>
<circle cx="513.60" cy="259.80" r="1.90" fill="#fff" stroke="#141414" stroke-width="1.35"/>
<circle cx="517.60" cy="259.80" r="1.90" fill="#fff" stroke="#141414" stroke-width="1.35"/>
<line x1="507.00" y1="259.80" x2="520.80" y2="259.80" stroke="#141414" stroke-width="0.54"/>
<rect x="520.80" y="258.40" width="2.40" height="2.80" fill="#333" stroke="#141414" stroke-width="0.68"/>
<path d="M508,262.3 Q503.5,265.8 503,273.8" fill="none" stroke="#141414" stroke-width="0.81"/>
<path d="M512,262.0 L508,265.8" fill="none" stroke="#141414" stroke-width="0.81"/>
<path d="M516.5,262.0 L512,265.8" fill="none" stroke="#141414" stroke-width="0.81"/>
<circle cx="509.30" cy="267.90" r="1.90" fill="#fff" stroke="#141414" stroke-width="1.35"/>
<circle cx="513.60" cy="267.90" r="1.90" fill="#fff" stroke="#141414" stroke-width="1.35"/>
<circle cx="517.60" cy="267.90" r="1.90" fill="#fff" stroke="#141414" stroke-width="1.35"/>
<line x1="507.00" y1="267.90" x2="520.80" y2="267.90" stroke="#141414" stroke-width="0.54"/>
<rect x="520.80" y="266.50" width="2.40" height="2.80" fill="#333" stroke="#141414" stroke-width="0.68"/>
<path d="M508,270.4 Q503.5,273.9 503,281.9" fill="none" stroke="#141414" stroke-width="0.81"/>
<path d="M512,270.09999999999997 L508,273.9" fill="none" stroke="#141414" stroke-width="0.81"/>
<path d="M516.5,270.09999999999997 L512,273.9" fill="none" stroke="#141414" stroke-width="0.81"/>
<circle cx="509.30" cy="276.00" r="1.90" fill="#fff" stroke="#141414" stroke-width="1.35"/>
<circle cx="513.60" cy="276.00" r="1.90" fill="#fff" stroke="#141414" stroke-width="1.35"/>
<circle cx="517.60" cy="276.00" r="1.90" fill="#fff" stroke="#141414" stroke-width="1.35"/>
<line x1="507.00" y1="276.00" x2="520.80" y2="276.00" stroke="#141414" stroke-width="0.54"/>
<rect x="520.80" y="274.60" width="2.40" height="2.80" fill="#333" stroke="#141414" stroke-width="0.68"/>
<path d="M508,278.5 Q503.5,282.0 503,290.0" fill="none" stroke="#141414" stroke-width="0.81"/>
<path d="M512,278.2 L508,282.0" fill="none" stroke="#141414" stroke-width="0.81"/>
<path d="M516.5,278.2 L512,282.0" fill="none" stroke="#141414" stroke-width="0.81"/>
<circle cx="509.30" cy="284.10" r="1.90" fill="#fff" stroke="#141414" stroke-width="1.35"/>
<circle cx="513.60" cy="284.10" r="1.90" fill="#fff" stroke="#141414" stroke-width="1.35"/>
<circle cx="517.60" cy="284.10" r="1.90" fill="#fff" stroke="#141414" stroke-width="1.35"/>
<line x1="507.00" y1="284.10" x2="520.80" y2="284.10" stroke="#141414" stroke-width="0.54"/>
<rect x="520.80" y="282.70" width="2.40" height="2.80" fill="#333" stroke="#141414" stroke-width="0.68"/>
<path d="M508,286.6 Q503.5,290.1 503,298.1" fill="none" stroke="#141414" stroke-width="0.81"/>
<path d="M512,286.3 L508,290.1" fill="none" stroke="#141414" stroke-width="0.81"/>
<path d="M516.5,286.3 L512,290.1" fill="none" stroke="#141414" stroke-width="0.81"/>
<circle cx="509.30" cy="292.30" r="1.90" fill="#fff" stroke="#141414" stroke-width="1.35"/>
<circle cx="513.60" cy="292.30" r="1.90" fill="#fff" stroke="#141414" stroke-width="1.35"/>
<circle cx="517.60" cy="292.30" r="1.90" fill="#fff" stroke="#141414" stroke-width="1.35"/>
<line x1="507.00" y1="292.30" x2="520.80" y2="292.30" stroke="#141414" stroke-width="0.54"/>
<rect x="520.80" y="290.90" width="2.40" height="2.80" fill="#333" stroke="#141414" stroke-width="0.68"/>
<path d="M508,294.8 Q503.5,298.3 503,306.3" fill="none" stroke="#141414" stroke-width="0.81"/>
<path d="M512,294.5 L508,298.3" fill="none" stroke="#141414" stroke-width="0.81"/>
<path d="M516.5,294.5 L512,298.3" fill="none" stroke="#141414" stroke-width="0.81"/>
<path d="M504,250 Q502.6,270 502.8,314" fill="none" stroke="#141414" stroke-width="0.81"/>
<path d="M511.50,299.70 L513.80,311.50 L516.20,299.70" fill="#444" stroke="#141414" stroke-width="0.94"/>
<line x1="513.80" y1="296.00" x2="513.80" y2="314.00" stroke="#141414" stroke-width="0.68"/>
<line x1="502.00" y1="299.70" x2="502.00" y2="314.50" stroke="#141414" stroke-width="0.94"/>
<line x1="504.30" y1="299.70" x2="504.30" y2="314.50" stroke="#141414" stroke-width="0.94"/>
<rect x="500.60" y="314.50" width="5.20" height="7.80" fill="none" stroke="#141414" stroke-width="1.08"/>
<rect x="501.60" y="322.30" width="3.20" height="2.70" fill="none" stroke="#141414" stroke-width="0.81"/>
<rect x="496.40" y="325.00" width="25.30" height="25.30" fill="#fff" stroke="#141414" stroke-width="1.35"/>
<circle cx="511.20" cy="334.60" r="6.60" fill="none" stroke="#141414" stroke-width="2.03"/>
<circle cx="511.20" cy="334.60" r="4.00" fill="none" stroke="#141414" stroke-width="1.08"/>
<line x1="509.00" y1="331.00" x2="509.00" y2="338.00" stroke="#141414" stroke-width="0.81"/>
<line x1="513.40" y1="331.00" x2="513.40" y2="338.00" stroke="#141414" stroke-width="0.81"/>
<rect x="497.50" y="330.00" width="7.00" height="3.20" fill="#333" stroke="#141414" stroke-width="0.81"/>
<rect x="497.50" y="338.50" width="7.00" height="3.10" fill="#333" stroke="#141414" stroke-width="0.81"/>
<line x1="496.40" y1="344.40" x2="506.00" y2="344.40" stroke="#141414" stroke-width="0.68"/>
<line x1="488.50" y1="334.60" x2="552.00" y2="334.60" stroke="#141414" stroke-width="0.68" stroke-dasharray="5 1.5 1 1.5"/>
<line x1="511.20" y1="320.00" x2="511.20" y2="400.00" stroke="#141414" stroke-width="0.68" stroke-dasharray="5 1.5 1 1.5"/>
<path d="M521.7,327.6 L534,327.6 M521.7,340.7 L541.5,340.7 Q548.2,340.7 548.2,333.5 L548.2,326" fill="none" stroke="#141414" stroke-width="1.22"/>
<line x1="528.00" y1="327.60" x2="528.00" y2="340.70" stroke="#141414" stroke-width="0.81"/>
<rect x="506.00" y="350.30" width="6.20" height="10.70" fill="none" stroke="#141414" stroke-width="1.08"/>
<line x1="507.80" y1="350.30" x2="507.80" y2="361.00" stroke="#141414" stroke-width="0.81"/>
<line x1="510.40" y1="350.30" x2="510.40" y2="361.00" stroke="#141414" stroke-width="0.81"/>
<rect x="504.80" y="361.00" width="8.20" height="7.00" fill="#fff" stroke="#141414" stroke-width="1.08"/>
<rect x="504.20" y="368.00" width="9.60" height="4.40" fill="#fff" stroke="#141414" stroke-width="1.08"/>
<line x1="504.20" y1="370.20" x2="513.80" y2="370.20" stroke="#141414" stroke-width="0.68"/>
<path d="M503.2,373.2 L515.4,373.2 L515.4,379.5 Q515.4,381 514,381 L504.6,381 Q503.2,381 503.2,379.5 Z" fill="#fff" stroke="#141414" stroke-width="1.22"/>
<line x1="505.70" y1="373.50" x2="505.70" y2="380.80" stroke="#141414" stroke-width="0.94"/>
<line x1="508.00" y1="373.50" x2="508.00" y2="380.80" stroke="#141414" stroke-width="0.94"/>
<line x1="510.60" y1="373.50" x2="510.60" y2="380.80" stroke="#141414" stroke-width="0.94"/>
<line x1="512.90" y1="373.50" x2="512.90" y2="380.80" stroke="#141414" stroke-width="0.94"/>
<line x1="493.00" y1="368.00" x2="493.00" y2="398.00" stroke="#141414" stroke-width="0.81"/>
<text x="0" y="0" transform="translate(499.20 392.30) scale(1.07 1)" font-size="12" text-anchor="middle" class="num" font-weight="normal" letter-spacing="0.3">44</text>
<line x1="493.00" y1="395.70" x2="509.30" y2="395.70" stroke="#141414" stroke-width="0.94"/>
<path d="M493.00,395.70 L501.00,394.70 L501.00,396.70 Z" fill="#141414" stroke="#141414" stroke-width="0.41"/>
<path d="M509.30,395.70 L501.30,396.70 L501.30,394.70 Z" fill="#141414" stroke="#141414" stroke-width="0.41"/>
<line x1="77.90" y1="369.20" x2="441.00" y2="369.20" stroke="#141414" stroke-width="1.35"/>
</svg>
</body></html>
